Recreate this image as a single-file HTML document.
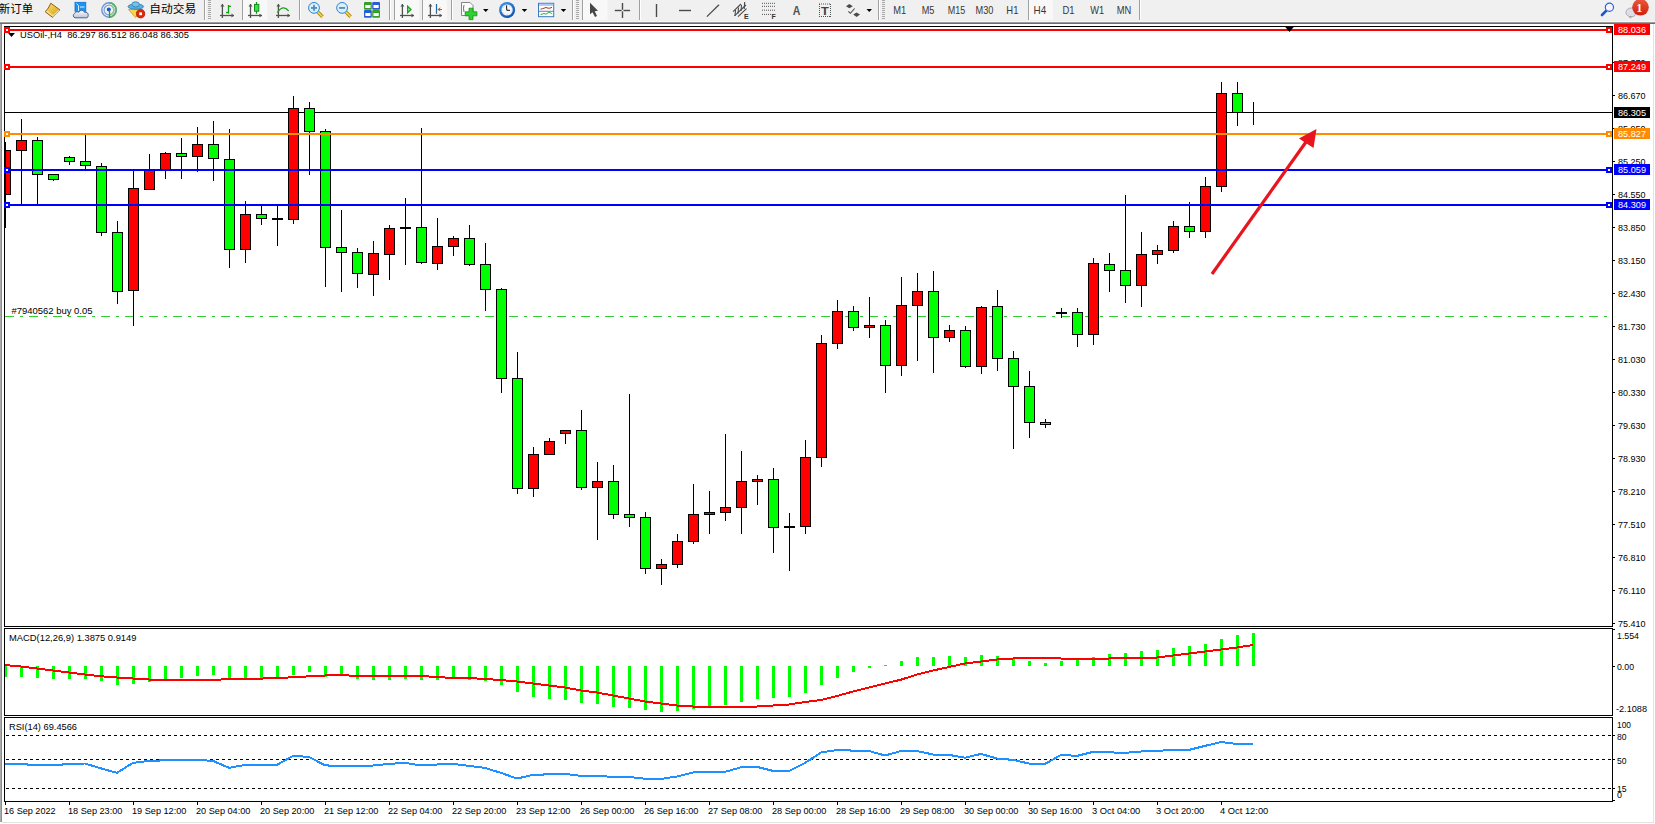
<!DOCTYPE html><html><head><meta charset="utf-8"><style>html,body{margin:0;padding:0;background:#fff;}body{width:1655px;height:824px;overflow:hidden;position:relative;}svg text{white-space:pre;}</style></head><body><svg width="1655" height="824" viewBox="0 0 1655 824" style="position:absolute;left:0;top:0">
<defs><clipPath id="mainclip"><rect x="5" y="27" width="1607" height="599"/></clipPath><clipPath id="macdclip"><rect x="5" y="629" width="1607" height="86"/></clipPath><clipPath id="rsiclip"><rect x="5" y="718" width="1607" height="83"/></clipPath></defs>
<rect x="0" y="0" width="1655" height="22" fill="#f0f0f0"/>
<rect x="0" y="21" width="1655" height="1" fill="#f7f7f7"/>
<rect x="0" y="22" width="1655" height="1" fill="#9b9b9b"/>
<rect x="0" y="23" width="1655" height="1" fill="#6d6d6d"/>
<rect x="0" y="24" width="1655" height="800" fill="#ffffff"/>
<rect x="0" y="24" width="1" height="798" fill="#ababab"/>
<rect x="1" y="24" width="1" height="798" fill="#8d8d8d"/>
<rect x="1653" y="24" width="1" height="799" fill="#e3e3e3"/>
<rect x="2" y="822" width="1652" height="1" fill="#e3e3e3"/>
<rect x="4" y="26" width="1609" height="1" fill="#000"/>
<rect x="4" y="26" width="1" height="601" fill="#000"/>
<rect x="1612" y="26" width="1" height="601" fill="#000"/>
<rect x="4" y="626" width="1609" height="1" fill="#000"/>
<rect x="4" y="628" width="1609" height="1" fill="#000"/>
<rect x="4" y="628" width="1" height="88" fill="#000"/>
<rect x="1612" y="628" width="1" height="88" fill="#000"/>
<rect x="4" y="715" width="1609" height="1" fill="#000"/>
<rect x="4" y="717" width="1609" height="1" fill="#000"/>
<rect x="4" y="717" width="1" height="85" fill="#000"/>
<rect x="1612" y="717" width="1" height="85" fill="#000"/>
<rect x="4" y="801" width="1609" height="1" fill="#000"/>
<g clip-path="url(#mainclip)">
<rect x="5" y="316" width="9" height="1" fill="#32cd32"/>
<rect x="20" y="316" width="3" height="1" fill="#32cd32"/>
<rect x="29" y="316" width="9" height="1" fill="#32cd32"/>
<rect x="44" y="316" width="3" height="1" fill="#32cd32"/>
<rect x="53" y="316" width="9" height="1" fill="#32cd32"/>
<rect x="68" y="316" width="3" height="1" fill="#32cd32"/>
<rect x="77" y="316" width="9" height="1" fill="#32cd32"/>
<rect x="92" y="316" width="3" height="1" fill="#32cd32"/>
<rect x="101" y="316" width="9" height="1" fill="#32cd32"/>
<rect x="116" y="316" width="3" height="1" fill="#32cd32"/>
<rect x="125" y="316" width="9" height="1" fill="#32cd32"/>
<rect x="140" y="316" width="3" height="1" fill="#32cd32"/>
<rect x="149" y="316" width="9" height="1" fill="#32cd32"/>
<rect x="164" y="316" width="3" height="1" fill="#32cd32"/>
<rect x="173" y="316" width="9" height="1" fill="#32cd32"/>
<rect x="188" y="316" width="3" height="1" fill="#32cd32"/>
<rect x="197" y="316" width="9" height="1" fill="#32cd32"/>
<rect x="212" y="316" width="3" height="1" fill="#32cd32"/>
<rect x="221" y="316" width="9" height="1" fill="#32cd32"/>
<rect x="236" y="316" width="3" height="1" fill="#32cd32"/>
<rect x="245" y="316" width="9" height="1" fill="#32cd32"/>
<rect x="260" y="316" width="3" height="1" fill="#32cd32"/>
<rect x="269" y="316" width="9" height="1" fill="#32cd32"/>
<rect x="284" y="316" width="3" height="1" fill="#32cd32"/>
<rect x="293" y="316" width="9" height="1" fill="#32cd32"/>
<rect x="308" y="316" width="3" height="1" fill="#32cd32"/>
<rect x="317" y="316" width="9" height="1" fill="#32cd32"/>
<rect x="332" y="316" width="3" height="1" fill="#32cd32"/>
<rect x="341" y="316" width="9" height="1" fill="#32cd32"/>
<rect x="356" y="316" width="3" height="1" fill="#32cd32"/>
<rect x="365" y="316" width="9" height="1" fill="#32cd32"/>
<rect x="380" y="316" width="3" height="1" fill="#32cd32"/>
<rect x="389" y="316" width="9" height="1" fill="#32cd32"/>
<rect x="404" y="316" width="3" height="1" fill="#32cd32"/>
<rect x="413" y="316" width="9" height="1" fill="#32cd32"/>
<rect x="428" y="316" width="3" height="1" fill="#32cd32"/>
<rect x="437" y="316" width="9" height="1" fill="#32cd32"/>
<rect x="452" y="316" width="3" height="1" fill="#32cd32"/>
<rect x="461" y="316" width="9" height="1" fill="#32cd32"/>
<rect x="476" y="316" width="3" height="1" fill="#32cd32"/>
<rect x="485" y="316" width="9" height="1" fill="#32cd32"/>
<rect x="500" y="316" width="3" height="1" fill="#32cd32"/>
<rect x="509" y="316" width="9" height="1" fill="#32cd32"/>
<rect x="524" y="316" width="3" height="1" fill="#32cd32"/>
<rect x="533" y="316" width="9" height="1" fill="#32cd32"/>
<rect x="548" y="316" width="3" height="1" fill="#32cd32"/>
<rect x="557" y="316" width="9" height="1" fill="#32cd32"/>
<rect x="572" y="316" width="3" height="1" fill="#32cd32"/>
<rect x="581" y="316" width="9" height="1" fill="#32cd32"/>
<rect x="596" y="316" width="3" height="1" fill="#32cd32"/>
<rect x="605" y="316" width="9" height="1" fill="#32cd32"/>
<rect x="620" y="316" width="3" height="1" fill="#32cd32"/>
<rect x="629" y="316" width="9" height="1" fill="#32cd32"/>
<rect x="644" y="316" width="3" height="1" fill="#32cd32"/>
<rect x="653" y="316" width="9" height="1" fill="#32cd32"/>
<rect x="668" y="316" width="3" height="1" fill="#32cd32"/>
<rect x="677" y="316" width="9" height="1" fill="#32cd32"/>
<rect x="692" y="316" width="3" height="1" fill="#32cd32"/>
<rect x="701" y="316" width="9" height="1" fill="#32cd32"/>
<rect x="716" y="316" width="3" height="1" fill="#32cd32"/>
<rect x="725" y="316" width="9" height="1" fill="#32cd32"/>
<rect x="740" y="316" width="3" height="1" fill="#32cd32"/>
<rect x="749" y="316" width="9" height="1" fill="#32cd32"/>
<rect x="764" y="316" width="3" height="1" fill="#32cd32"/>
<rect x="773" y="316" width="9" height="1" fill="#32cd32"/>
<rect x="788" y="316" width="3" height="1" fill="#32cd32"/>
<rect x="797" y="316" width="9" height="1" fill="#32cd32"/>
<rect x="812" y="316" width="3" height="1" fill="#32cd32"/>
<rect x="821" y="316" width="9" height="1" fill="#32cd32"/>
<rect x="836" y="316" width="3" height="1" fill="#32cd32"/>
<rect x="845" y="316" width="9" height="1" fill="#32cd32"/>
<rect x="860" y="316" width="3" height="1" fill="#32cd32"/>
<rect x="869" y="316" width="9" height="1" fill="#32cd32"/>
<rect x="884" y="316" width="3" height="1" fill="#32cd32"/>
<rect x="893" y="316" width="9" height="1" fill="#32cd32"/>
<rect x="908" y="316" width="3" height="1" fill="#32cd32"/>
<rect x="917" y="316" width="9" height="1" fill="#32cd32"/>
<rect x="932" y="316" width="3" height="1" fill="#32cd32"/>
<rect x="941" y="316" width="9" height="1" fill="#32cd32"/>
<rect x="956" y="316" width="3" height="1" fill="#32cd32"/>
<rect x="965" y="316" width="9" height="1" fill="#32cd32"/>
<rect x="980" y="316" width="3" height="1" fill="#32cd32"/>
<rect x="989" y="316" width="9" height="1" fill="#32cd32"/>
<rect x="1004" y="316" width="3" height="1" fill="#32cd32"/>
<rect x="1013" y="316" width="9" height="1" fill="#32cd32"/>
<rect x="1028" y="316" width="3" height="1" fill="#32cd32"/>
<rect x="1037" y="316" width="9" height="1" fill="#32cd32"/>
<rect x="1052" y="316" width="3" height="1" fill="#32cd32"/>
<rect x="1061" y="316" width="9" height="1" fill="#32cd32"/>
<rect x="1076" y="316" width="3" height="1" fill="#32cd32"/>
<rect x="1085" y="316" width="9" height="1" fill="#32cd32"/>
<rect x="1100" y="316" width="3" height="1" fill="#32cd32"/>
<rect x="1109" y="316" width="9" height="1" fill="#32cd32"/>
<rect x="1124" y="316" width="3" height="1" fill="#32cd32"/>
<rect x="1133" y="316" width="9" height="1" fill="#32cd32"/>
<rect x="1148" y="316" width="3" height="1" fill="#32cd32"/>
<rect x="1157" y="316" width="9" height="1" fill="#32cd32"/>
<rect x="1172" y="316" width="3" height="1" fill="#32cd32"/>
<rect x="1181" y="316" width="9" height="1" fill="#32cd32"/>
<rect x="1196" y="316" width="3" height="1" fill="#32cd32"/>
<rect x="1205" y="316" width="9" height="1" fill="#32cd32"/>
<rect x="1220" y="316" width="3" height="1" fill="#32cd32"/>
<rect x="1229" y="316" width="9" height="1" fill="#32cd32"/>
<rect x="1244" y="316" width="3" height="1" fill="#32cd32"/>
<rect x="1253" y="316" width="9" height="1" fill="#32cd32"/>
<rect x="1268" y="316" width="3" height="1" fill="#32cd32"/>
<rect x="1277" y="316" width="9" height="1" fill="#32cd32"/>
<rect x="1292" y="316" width="3" height="1" fill="#32cd32"/>
<rect x="1301" y="316" width="9" height="1" fill="#32cd32"/>
<rect x="1316" y="316" width="3" height="1" fill="#32cd32"/>
<rect x="1325" y="316" width="9" height="1" fill="#32cd32"/>
<rect x="1340" y="316" width="3" height="1" fill="#32cd32"/>
<rect x="1349" y="316" width="9" height="1" fill="#32cd32"/>
<rect x="1364" y="316" width="3" height="1" fill="#32cd32"/>
<rect x="1373" y="316" width="9" height="1" fill="#32cd32"/>
<rect x="1388" y="316" width="3" height="1" fill="#32cd32"/>
<rect x="1397" y="316" width="9" height="1" fill="#32cd32"/>
<rect x="1412" y="316" width="3" height="1" fill="#32cd32"/>
<rect x="1421" y="316" width="9" height="1" fill="#32cd32"/>
<rect x="1436" y="316" width="3" height="1" fill="#32cd32"/>
<rect x="1445" y="316" width="9" height="1" fill="#32cd32"/>
<rect x="1460" y="316" width="3" height="1" fill="#32cd32"/>
<rect x="1469" y="316" width="9" height="1" fill="#32cd32"/>
<rect x="1484" y="316" width="3" height="1" fill="#32cd32"/>
<rect x="1493" y="316" width="9" height="1" fill="#32cd32"/>
<rect x="1508" y="316" width="3" height="1" fill="#32cd32"/>
<rect x="1517" y="316" width="9" height="1" fill="#32cd32"/>
<rect x="1532" y="316" width="3" height="1" fill="#32cd32"/>
<rect x="1541" y="316" width="9" height="1" fill="#32cd32"/>
<rect x="1556" y="316" width="3" height="1" fill="#32cd32"/>
<rect x="1565" y="316" width="9" height="1" fill="#32cd32"/>
<rect x="1580" y="316" width="3" height="1" fill="#32cd32"/>
<rect x="1589" y="316" width="9" height="1" fill="#32cd32"/>
<rect x="1604" y="316" width="3" height="1" fill="#32cd32"/>
<rect x="5" y="112" width="1607" height="1" fill="#000"/>
</g>
<g clip-path="url(#mainclip)">
<rect x="5" y="142" width="1" height="86" fill="#000"/>
<rect x="0" y="150" width="11" height="45" fill="#000"/>
<rect x="1" y="151" width="9" height="43" fill="#ff0000"/>
<rect x="5" y="142" width="1" height="86" fill="#000"/>
<rect x="21" y="119" width="1" height="85" fill="#000"/>
<rect x="16" y="140" width="11" height="11" fill="#000"/>
<rect x="17" y="141" width="9" height="9" fill="#ff0000"/>
<rect x="37" y="137" width="1" height="67" fill="#000"/>
<rect x="32" y="140" width="11" height="35" fill="#000"/>
<rect x="33" y="141" width="9" height="33" fill="#00ff00"/>
<rect x="53" y="174" width="1" height="7" fill="#000"/>
<rect x="48" y="174" width="11" height="6" fill="#000"/>
<rect x="49" y="175" width="9" height="4" fill="#00ff00"/>
<rect x="69" y="156" width="1" height="9" fill="#000"/>
<rect x="64" y="157" width="11" height="5" fill="#000"/>
<rect x="65" y="158" width="9" height="3" fill="#00ff00"/>
<rect x="85" y="135" width="1" height="34" fill="#000"/>
<rect x="80" y="161" width="11" height="5" fill="#000"/>
<rect x="81" y="162" width="9" height="3" fill="#00ff00"/>
<rect x="101" y="163" width="1" height="73" fill="#000"/>
<rect x="96" y="166" width="11" height="67" fill="#000"/>
<rect x="97" y="167" width="9" height="65" fill="#00ff00"/>
<rect x="117" y="221" width="1" height="83" fill="#000"/>
<rect x="112" y="232" width="11" height="60" fill="#000"/>
<rect x="113" y="233" width="9" height="58" fill="#00ff00"/>
<rect x="133" y="170" width="1" height="156" fill="#000"/>
<rect x="128" y="188" width="11" height="103" fill="#000"/>
<rect x="129" y="189" width="9" height="101" fill="#ff0000"/>
<rect x="149" y="154" width="1" height="35" fill="#000"/>
<rect x="144" y="170" width="11" height="20" fill="#000"/>
<rect x="145" y="171" width="9" height="18" fill="#ff0000"/>
<rect x="165" y="152" width="1" height="27" fill="#000"/>
<rect x="160" y="153" width="11" height="17" fill="#000"/>
<rect x="161" y="154" width="9" height="15" fill="#ff0000"/>
<rect x="181" y="138" width="1" height="41" fill="#000"/>
<rect x="176" y="153" width="11" height="4" fill="#000"/>
<rect x="177" y="154" width="9" height="2" fill="#00ff00"/>
<rect x="197" y="127" width="1" height="45" fill="#000"/>
<rect x="192" y="144" width="11" height="13" fill="#000"/>
<rect x="193" y="145" width="9" height="11" fill="#ff0000"/>
<rect x="213" y="121" width="1" height="60" fill="#000"/>
<rect x="208" y="144" width="11" height="15" fill="#000"/>
<rect x="209" y="145" width="9" height="13" fill="#00ff00"/>
<rect x="229" y="129" width="1" height="139" fill="#000"/>
<rect x="224" y="159" width="11" height="91" fill="#000"/>
<rect x="225" y="160" width="9" height="89" fill="#00ff00"/>
<rect x="245" y="201" width="1" height="62" fill="#000"/>
<rect x="240" y="214" width="11" height="36" fill="#000"/>
<rect x="241" y="215" width="9" height="34" fill="#ff0000"/>
<rect x="261" y="206" width="1" height="19" fill="#000"/>
<rect x="256" y="214" width="11" height="5" fill="#000"/>
<rect x="257" y="215" width="9" height="3" fill="#00ff00"/>
<rect x="277" y="206" width="1" height="40" fill="#000"/>
<rect x="272" y="218" width="11" height="2" fill="#000"/>
<rect x="293" y="96" width="1" height="128" fill="#000"/>
<rect x="288" y="108" width="11" height="112" fill="#000"/>
<rect x="289" y="109" width="9" height="110" fill="#ff0000"/>
<rect x="309" y="102" width="1" height="73" fill="#000"/>
<rect x="304" y="108" width="11" height="24" fill="#000"/>
<rect x="305" y="109" width="9" height="22" fill="#00ff00"/>
<rect x="325" y="129" width="1" height="158" fill="#000"/>
<rect x="320" y="131" width="11" height="117" fill="#000"/>
<rect x="321" y="132" width="9" height="115" fill="#00ff00"/>
<rect x="341" y="210" width="1" height="82" fill="#000"/>
<rect x="336" y="247" width="11" height="6" fill="#000"/>
<rect x="337" y="248" width="9" height="4" fill="#00ff00"/>
<rect x="357" y="248" width="1" height="40" fill="#000"/>
<rect x="352" y="252" width="11" height="22" fill="#000"/>
<rect x="353" y="253" width="9" height="20" fill="#00ff00"/>
<rect x="373" y="241" width="1" height="55" fill="#000"/>
<rect x="368" y="253" width="11" height="22" fill="#000"/>
<rect x="369" y="254" width="9" height="20" fill="#ff0000"/>
<rect x="389" y="225" width="1" height="55" fill="#000"/>
<rect x="384" y="228" width="11" height="27" fill="#000"/>
<rect x="385" y="229" width="9" height="25" fill="#ff0000"/>
<rect x="405" y="198" width="1" height="67" fill="#000"/>
<rect x="400" y="227" width="11" height="2" fill="#000"/>
<rect x="421" y="128" width="1" height="136" fill="#000"/>
<rect x="416" y="227" width="11" height="36" fill="#000"/>
<rect x="417" y="228" width="9" height="34" fill="#00ff00"/>
<rect x="437" y="218" width="1" height="52" fill="#000"/>
<rect x="432" y="246" width="11" height="18" fill="#000"/>
<rect x="433" y="247" width="9" height="16" fill="#ff0000"/>
<rect x="453" y="236" width="1" height="20" fill="#000"/>
<rect x="448" y="238" width="11" height="9" fill="#000"/>
<rect x="449" y="239" width="9" height="7" fill="#ff0000"/>
<rect x="469" y="225" width="1" height="41" fill="#000"/>
<rect x="464" y="238" width="11" height="27" fill="#000"/>
<rect x="465" y="239" width="9" height="25" fill="#00ff00"/>
<rect x="485" y="243" width="1" height="68" fill="#000"/>
<rect x="480" y="264" width="11" height="26" fill="#000"/>
<rect x="481" y="265" width="9" height="24" fill="#00ff00"/>
<rect x="501" y="288" width="1" height="105" fill="#000"/>
<rect x="496" y="289" width="11" height="90" fill="#000"/>
<rect x="497" y="290" width="9" height="88" fill="#00ff00"/>
<rect x="517" y="352" width="1" height="142" fill="#000"/>
<rect x="512" y="378" width="11" height="111" fill="#000"/>
<rect x="513" y="379" width="9" height="109" fill="#00ff00"/>
<rect x="533" y="447" width="1" height="50" fill="#000"/>
<rect x="528" y="454" width="11" height="35" fill="#000"/>
<rect x="529" y="455" width="9" height="33" fill="#ff0000"/>
<rect x="549" y="438" width="1" height="16" fill="#000"/>
<rect x="544" y="441" width="11" height="14" fill="#000"/>
<rect x="545" y="442" width="9" height="12" fill="#ff0000"/>
<rect x="565" y="430" width="1" height="14" fill="#000"/>
<rect x="560" y="430" width="11" height="4" fill="#000"/>
<rect x="561" y="431" width="9" height="2" fill="#ff0000"/>
<rect x="581" y="410" width="1" height="80" fill="#000"/>
<rect x="576" y="430" width="11" height="58" fill="#000"/>
<rect x="577" y="431" width="9" height="56" fill="#00ff00"/>
<rect x="597" y="462" width="1" height="78" fill="#000"/>
<rect x="592" y="481" width="11" height="7" fill="#000"/>
<rect x="593" y="482" width="9" height="5" fill="#ff0000"/>
<rect x="613" y="465" width="1" height="54" fill="#000"/>
<rect x="608" y="481" width="11" height="34" fill="#000"/>
<rect x="609" y="482" width="9" height="32" fill="#00ff00"/>
<rect x="629" y="394" width="1" height="133" fill="#000"/>
<rect x="624" y="514" width="11" height="4" fill="#000"/>
<rect x="625" y="515" width="9" height="2" fill="#00ff00"/>
<rect x="645" y="512" width="1" height="62" fill="#000"/>
<rect x="640" y="517" width="11" height="52" fill="#000"/>
<rect x="641" y="518" width="9" height="50" fill="#00ff00"/>
<rect x="661" y="559" width="1" height="26" fill="#000"/>
<rect x="656" y="564" width="11" height="5" fill="#000"/>
<rect x="657" y="565" width="9" height="3" fill="#ff0000"/>
<rect x="677" y="534" width="1" height="34" fill="#000"/>
<rect x="672" y="541" width="11" height="24" fill="#000"/>
<rect x="673" y="542" width="9" height="22" fill="#ff0000"/>
<rect x="693" y="484" width="1" height="60" fill="#000"/>
<rect x="688" y="514" width="11" height="28" fill="#000"/>
<rect x="689" y="515" width="9" height="26" fill="#ff0000"/>
<rect x="709" y="491" width="1" height="43" fill="#000"/>
<rect x="704" y="512" width="11" height="3" fill="#000"/>
<rect x="705" y="513" width="9" height="1" fill="#ff0000"/>
<rect x="725" y="434" width="1" height="87" fill="#000"/>
<rect x="720" y="507" width="11" height="6" fill="#000"/>
<rect x="721" y="508" width="9" height="4" fill="#ff0000"/>
<rect x="741" y="451" width="1" height="83" fill="#000"/>
<rect x="736" y="481" width="11" height="27" fill="#000"/>
<rect x="737" y="482" width="9" height="25" fill="#ff0000"/>
<rect x="757" y="475" width="1" height="30" fill="#000"/>
<rect x="752" y="479" width="11" height="3" fill="#000"/>
<rect x="753" y="480" width="9" height="1" fill="#ff0000"/>
<rect x="773" y="468" width="1" height="85" fill="#000"/>
<rect x="768" y="479" width="11" height="49" fill="#000"/>
<rect x="769" y="480" width="9" height="47" fill="#00ff00"/>
<rect x="789" y="513" width="1" height="58" fill="#000"/>
<rect x="784" y="526" width="11" height="2" fill="#000"/>
<rect x="805" y="440" width="1" height="94" fill="#000"/>
<rect x="800" y="457" width="11" height="70" fill="#000"/>
<rect x="801" y="458" width="9" height="68" fill="#ff0000"/>
<rect x="821" y="335" width="1" height="132" fill="#000"/>
<rect x="816" y="343" width="11" height="115" fill="#000"/>
<rect x="817" y="344" width="9" height="113" fill="#ff0000"/>
<rect x="837" y="300" width="1" height="49" fill="#000"/>
<rect x="832" y="311" width="11" height="33" fill="#000"/>
<rect x="833" y="312" width="9" height="31" fill="#ff0000"/>
<rect x="853" y="306" width="1" height="25" fill="#000"/>
<rect x="848" y="311" width="11" height="17" fill="#000"/>
<rect x="849" y="312" width="9" height="15" fill="#00ff00"/>
<rect x="869" y="297" width="1" height="41" fill="#000"/>
<rect x="864" y="325" width="11" height="3" fill="#000"/>
<rect x="865" y="326" width="9" height="1" fill="#ff0000"/>
<rect x="885" y="320" width="1" height="73" fill="#000"/>
<rect x="880" y="325" width="11" height="41" fill="#000"/>
<rect x="881" y="326" width="9" height="39" fill="#00ff00"/>
<rect x="901" y="277" width="1" height="99" fill="#000"/>
<rect x="896" y="305" width="11" height="61" fill="#000"/>
<rect x="897" y="306" width="9" height="59" fill="#ff0000"/>
<rect x="917" y="273" width="1" height="88" fill="#000"/>
<rect x="912" y="291" width="11" height="15" fill="#000"/>
<rect x="913" y="292" width="9" height="13" fill="#ff0000"/>
<rect x="933" y="271" width="1" height="102" fill="#000"/>
<rect x="928" y="291" width="11" height="47" fill="#000"/>
<rect x="929" y="292" width="9" height="45" fill="#00ff00"/>
<rect x="949" y="325" width="1" height="17" fill="#000"/>
<rect x="944" y="330" width="11" height="8" fill="#000"/>
<rect x="945" y="331" width="9" height="6" fill="#ff0000"/>
<rect x="965" y="326" width="1" height="42" fill="#000"/>
<rect x="960" y="330" width="11" height="37" fill="#000"/>
<rect x="961" y="331" width="9" height="35" fill="#00ff00"/>
<rect x="981" y="306" width="1" height="68" fill="#000"/>
<rect x="976" y="307" width="11" height="60" fill="#000"/>
<rect x="977" y="308" width="9" height="58" fill="#ff0000"/>
<rect x="997" y="290" width="1" height="81" fill="#000"/>
<rect x="992" y="306" width="11" height="53" fill="#000"/>
<rect x="993" y="307" width="9" height="51" fill="#00ff00"/>
<rect x="1013" y="351" width="1" height="98" fill="#000"/>
<rect x="1008" y="358" width="11" height="29" fill="#000"/>
<rect x="1009" y="359" width="9" height="27" fill="#00ff00"/>
<rect x="1029" y="371" width="1" height="67" fill="#000"/>
<rect x="1024" y="386" width="11" height="37" fill="#000"/>
<rect x="1025" y="387" width="9" height="35" fill="#00ff00"/>
<rect x="1045" y="419" width="1" height="9" fill="#000"/>
<rect x="1040" y="422" width="11" height="3" fill="#000"/>
<rect x="1041" y="423" width="9" height="1" fill="#00ff00"/>
<rect x="1061" y="308" width="1" height="10" fill="#000"/>
<rect x="1056" y="312" width="11" height="2" fill="#000"/>
<rect x="1077" y="308" width="1" height="39" fill="#000"/>
<rect x="1072" y="312" width="11" height="23" fill="#000"/>
<rect x="1073" y="313" width="9" height="21" fill="#00ff00"/>
<rect x="1093" y="258" width="1" height="87" fill="#000"/>
<rect x="1088" y="263" width="11" height="72" fill="#000"/>
<rect x="1089" y="264" width="9" height="70" fill="#ff0000"/>
<rect x="1109" y="253" width="1" height="39" fill="#000"/>
<rect x="1104" y="264" width="11" height="7" fill="#000"/>
<rect x="1105" y="265" width="9" height="5" fill="#00ff00"/>
<rect x="1125" y="195" width="1" height="108" fill="#000"/>
<rect x="1120" y="270" width="11" height="16" fill="#000"/>
<rect x="1121" y="271" width="9" height="14" fill="#00ff00"/>
<rect x="1141" y="232" width="1" height="75" fill="#000"/>
<rect x="1136" y="254" width="11" height="32" fill="#000"/>
<rect x="1137" y="255" width="9" height="30" fill="#ff0000"/>
<rect x="1157" y="245" width="1" height="19" fill="#000"/>
<rect x="1152" y="250" width="11" height="5" fill="#000"/>
<rect x="1153" y="251" width="9" height="3" fill="#ff0000"/>
<rect x="1173" y="221" width="1" height="32" fill="#000"/>
<rect x="1168" y="226" width="11" height="25" fill="#000"/>
<rect x="1169" y="227" width="9" height="23" fill="#ff0000"/>
<rect x="1189" y="202" width="1" height="36" fill="#000"/>
<rect x="1184" y="226" width="11" height="6" fill="#000"/>
<rect x="1185" y="227" width="9" height="4" fill="#00ff00"/>
<rect x="1205" y="177" width="1" height="61" fill="#000"/>
<rect x="1200" y="186" width="11" height="46" fill="#000"/>
<rect x="1201" y="187" width="9" height="44" fill="#ff0000"/>
<rect x="1221" y="82" width="1" height="110" fill="#000"/>
<rect x="1216" y="93" width="11" height="94" fill="#000"/>
<rect x="1217" y="94" width="9" height="92" fill="#ff0000"/>
<rect x="1237" y="82" width="1" height="44" fill="#000"/>
<rect x="1232" y="93" width="11" height="20" fill="#000"/>
<rect x="1233" y="94" width="9" height="18" fill="#00ff00"/>
<rect x="1253" y="102" width="1" height="23" fill="#000"/>
<rect x="1248" y="112" width="11" height="1" fill="#000"/>
</g>
<rect x="4" y="29" width="1608" height="2" fill="#ff0000"/>
<rect x="4" y="27" width="6" height="6" fill="#ff0000"/>
<rect x="6" y="29" width="2" height="2" fill="#fff"/>
<rect x="1606" y="27" width="6" height="6" fill="#ff0000"/>
<rect x="1608" y="29" width="2" height="2" fill="#fff"/>
<rect x="4" y="66" width="1608" height="2" fill="#ff0000"/>
<rect x="4" y="64" width="6" height="6" fill="#ff0000"/>
<rect x="6" y="66" width="2" height="2" fill="#fff"/>
<rect x="1606" y="64" width="6" height="6" fill="#ff0000"/>
<rect x="1608" y="66" width="2" height="2" fill="#fff"/>
<rect x="4" y="133" width="1608" height="2" fill="#ff8c00"/>
<rect x="4" y="131" width="6" height="6" fill="#ff8c00"/>
<rect x="6" y="133" width="2" height="2" fill="#fff"/>
<rect x="1606" y="131" width="6" height="6" fill="#ff8c00"/>
<rect x="1608" y="133" width="2" height="2" fill="#fff"/>
<rect x="4" y="169" width="1608" height="2" fill="#0000ff"/>
<rect x="4" y="167" width="6" height="6" fill="#0000ff"/>
<rect x="6" y="169" width="2" height="2" fill="#fff"/>
<rect x="1606" y="167" width="6" height="6" fill="#0000ff"/>
<rect x="1608" y="169" width="2" height="2" fill="#fff"/>
<rect x="4" y="204" width="1608" height="2" fill="#0000ff"/>
<rect x="4" y="202" width="6" height="6" fill="#0000ff"/>
<rect x="6" y="204" width="2" height="2" fill="#fff"/>
<rect x="1606" y="202" width="6" height="6" fill="#0000ff"/>
<rect x="1608" y="204" width="2" height="2" fill="#fff"/>
<polygon points="1284.5,26 1294.5,26 1289.5,32" fill="#000"/>
<line x1="1212" y1="274" x2="1306" y2="142" stroke="#e8141e" stroke-width="3.2" stroke-linecap="butt"/>
<polygon points="1316.5,129 1299,138.5 1313.5,148" fill="#e8141e"/>
<polygon points="8,33 15,33 11.5,37" fill="#000"/>
<text x="20" y="38" font-size="9.6" fill="#000" font-family="'Liberation Sans', 'DejaVu Sans', sans-serif" textLength="169" lengthAdjust="spacingAndGlyphs" >USOil-,H4&#160;&#160;86.297 86.512 86.048 86.305</text>
<text x="11.5" y="313.5" font-size="9.6" fill="#000" font-family="'Liberation Sans', 'DejaVu Sans', sans-serif" textLength="81" lengthAdjust="spacingAndGlyphs" >#7940562 buy 0.05</text>
<rect x="1613" y="62" width="2" height="1" fill="#000"/>
<text x="1618" y="65.6" font-size="9.6" fill="#000" font-family="'Liberation Sans', 'DejaVu Sans', sans-serif" textLength="27.5" lengthAdjust="spacingAndGlyphs" >87.370</text>
<rect x="1613" y="95" width="2" height="1" fill="#000"/>
<text x="1618" y="98.6" font-size="9.6" fill="#000" font-family="'Liberation Sans', 'DejaVu Sans', sans-serif" textLength="27.5" lengthAdjust="spacingAndGlyphs" >86.670</text>
<rect x="1613" y="128" width="2" height="1" fill="#000"/>
<text x="1618" y="131.6" font-size="9.6" fill="#000" font-family="'Liberation Sans', 'DejaVu Sans', sans-serif" textLength="27.5" lengthAdjust="spacingAndGlyphs" >85.950</text>
<rect x="1613" y="161" width="2" height="1" fill="#000"/>
<text x="1618" y="164.6" font-size="9.6" fill="#000" font-family="'Liberation Sans', 'DejaVu Sans', sans-serif" textLength="27.5" lengthAdjust="spacingAndGlyphs" >85.250</text>
<rect x="1613" y="194" width="2" height="1" fill="#000"/>
<text x="1618" y="197.6" font-size="9.6" fill="#000" font-family="'Liberation Sans', 'DejaVu Sans', sans-serif" textLength="27.5" lengthAdjust="spacingAndGlyphs" >84.550</text>
<rect x="1613" y="227" width="2" height="1" fill="#000"/>
<text x="1618" y="230.6" font-size="9.6" fill="#000" font-family="'Liberation Sans', 'DejaVu Sans', sans-serif" textLength="27.5" lengthAdjust="spacingAndGlyphs" >83.850</text>
<rect x="1613" y="260" width="2" height="1" fill="#000"/>
<text x="1618" y="263.6" font-size="9.6" fill="#000" font-family="'Liberation Sans', 'DejaVu Sans', sans-serif" textLength="27.5" lengthAdjust="spacingAndGlyphs" >83.150</text>
<rect x="1613" y="293" width="2" height="1" fill="#000"/>
<text x="1618" y="296.6" font-size="9.6" fill="#000" font-family="'Liberation Sans', 'DejaVu Sans', sans-serif" textLength="27.5" lengthAdjust="spacingAndGlyphs" >82.430</text>
<rect x="1613" y="326" width="2" height="1" fill="#000"/>
<text x="1618" y="329.6" font-size="9.6" fill="#000" font-family="'Liberation Sans', 'DejaVu Sans', sans-serif" textLength="27.5" lengthAdjust="spacingAndGlyphs" >81.730</text>
<rect x="1613" y="359" width="2" height="1" fill="#000"/>
<text x="1618" y="362.6" font-size="9.6" fill="#000" font-family="'Liberation Sans', 'DejaVu Sans', sans-serif" textLength="27.5" lengthAdjust="spacingAndGlyphs" >81.030</text>
<rect x="1613" y="392" width="2" height="1" fill="#000"/>
<text x="1618" y="395.6" font-size="9.6" fill="#000" font-family="'Liberation Sans', 'DejaVu Sans', sans-serif" textLength="27.5" lengthAdjust="spacingAndGlyphs" >80.330</text>
<rect x="1613" y="425" width="2" height="1" fill="#000"/>
<text x="1618" y="428.6" font-size="9.6" fill="#000" font-family="'Liberation Sans', 'DejaVu Sans', sans-serif" textLength="27.5" lengthAdjust="spacingAndGlyphs" >79.630</text>
<rect x="1613" y="458" width="2" height="1" fill="#000"/>
<text x="1618" y="461.6" font-size="9.6" fill="#000" font-family="'Liberation Sans', 'DejaVu Sans', sans-serif" textLength="27.5" lengthAdjust="spacingAndGlyphs" >78.930</text>
<rect x="1613" y="491" width="2" height="1" fill="#000"/>
<text x="1618" y="494.6" font-size="9.6" fill="#000" font-family="'Liberation Sans', 'DejaVu Sans', sans-serif" textLength="27.5" lengthAdjust="spacingAndGlyphs" >78.210</text>
<rect x="1613" y="524" width="2" height="1" fill="#000"/>
<text x="1618" y="527.6" font-size="9.6" fill="#000" font-family="'Liberation Sans', 'DejaVu Sans', sans-serif" textLength="27.5" lengthAdjust="spacingAndGlyphs" >77.510</text>
<rect x="1613" y="557" width="2" height="1" fill="#000"/>
<text x="1618" y="560.6" font-size="9.6" fill="#000" font-family="'Liberation Sans', 'DejaVu Sans', sans-serif" textLength="27.5" lengthAdjust="spacingAndGlyphs" >76.810</text>
<rect x="1613" y="590" width="2" height="1" fill="#000"/>
<text x="1618" y="593.6" font-size="9.6" fill="#000" font-family="'Liberation Sans', 'DejaVu Sans', sans-serif" textLength="27.5" lengthAdjust="spacingAndGlyphs" >76.110</text>
<rect x="1613" y="623" width="2" height="1" fill="#000"/>
<text x="1618" y="626.6" font-size="9.6" fill="#000" font-family="'Liberation Sans', 'DejaVu Sans', sans-serif" textLength="27.5" lengthAdjust="spacingAndGlyphs" >75.410</text>
<rect x="1614" y="24" width="36" height="11" fill="#ff0000"/>
<text x="1618" y="33" font-size="9.6" fill="#fff" font-family="'Liberation Sans', 'DejaVu Sans', sans-serif" textLength="28" lengthAdjust="spacingAndGlyphs" >88.036</text>
<rect x="1614" y="61" width="36" height="11" fill="#ff0000"/>
<text x="1618" y="70" font-size="9.6" fill="#fff" font-family="'Liberation Sans', 'DejaVu Sans', sans-serif" textLength="28" lengthAdjust="spacingAndGlyphs" >87.249</text>
<rect x="1614" y="107" width="36" height="11" fill="#000000"/>
<text x="1618" y="116" font-size="9.6" fill="#fff" font-family="'Liberation Sans', 'DejaVu Sans', sans-serif" textLength="28" lengthAdjust="spacingAndGlyphs" >86.305</text>
<rect x="1614" y="128" width="36" height="11" fill="#ff8c00"/>
<text x="1618" y="137" font-size="9.6" fill="#fff" font-family="'Liberation Sans', 'DejaVu Sans', sans-serif" textLength="28" lengthAdjust="spacingAndGlyphs" >85.827</text>
<rect x="1614" y="164" width="36" height="11" fill="#0000ff"/>
<text x="1618" y="173" font-size="9.6" fill="#fff" font-family="'Liberation Sans', 'DejaVu Sans', sans-serif" textLength="28" lengthAdjust="spacingAndGlyphs" >85.059</text>
<rect x="1614" y="199" width="36" height="11" fill="#0000ff"/>
<text x="1618" y="208" font-size="9.6" fill="#fff" font-family="'Liberation Sans', 'DejaVu Sans', sans-serif" textLength="28" lengthAdjust="spacingAndGlyphs" >84.309</text>
<g clip-path="url(#macdclip)">
<rect x="4" y="666" width="3" height="11" fill="#00ff00"/>
<rect x="20" y="666" width="3" height="11" fill="#00ff00"/>
<rect x="36" y="666" width="3" height="12" fill="#00ff00"/>
<rect x="52" y="666" width="3" height="13" fill="#00ff00"/>
<rect x="68" y="666" width="3" height="13" fill="#00ff00"/>
<rect x="84" y="666" width="3" height="13" fill="#00ff00"/>
<rect x="100" y="666" width="3" height="15" fill="#00ff00"/>
<rect x="116" y="666" width="3" height="19" fill="#00ff00"/>
<rect x="132" y="666" width="3" height="18" fill="#00ff00"/>
<rect x="148" y="666" width="3" height="16" fill="#00ff00"/>
<rect x="164" y="666" width="3" height="13" fill="#00ff00"/>
<rect x="180" y="666" width="3" height="12" fill="#00ff00"/>
<rect x="196" y="666" width="3" height="10" fill="#00ff00"/>
<rect x="212" y="666" width="3" height="9" fill="#00ff00"/>
<rect x="228" y="666" width="3" height="12" fill="#00ff00"/>
<rect x="244" y="666" width="3" height="12" fill="#00ff00"/>
<rect x="260" y="666" width="3" height="12" fill="#00ff00"/>
<rect x="276" y="666" width="3" height="11" fill="#00ff00"/>
<rect x="292" y="666" width="3" height="9" fill="#00ff00"/>
<rect x="308" y="666" width="3" height="6" fill="#00ff00"/>
<rect x="324" y="666" width="3" height="11" fill="#00ff00"/>
<rect x="340" y="666" width="3" height="10" fill="#00ff00"/>
<rect x="356" y="666" width="3" height="13" fill="#00ff00"/>
<rect x="372" y="666" width="3" height="14" fill="#00ff00"/>
<rect x="388" y="666" width="3" height="14" fill="#00ff00"/>
<rect x="404" y="666" width="3" height="13" fill="#00ff00"/>
<rect x="420" y="666" width="3" height="14" fill="#00ff00"/>
<rect x="436" y="666" width="3" height="14" fill="#00ff00"/>
<rect x="452" y="666" width="3" height="11" fill="#00ff00"/>
<rect x="468" y="666" width="3" height="14" fill="#00ff00"/>
<rect x="484" y="666" width="3" height="15" fill="#00ff00"/>
<rect x="500" y="666" width="3" height="19" fill="#00ff00"/>
<rect x="516" y="666" width="3" height="26" fill="#00ff00"/>
<rect x="532" y="666" width="3" height="31" fill="#00ff00"/>
<rect x="548" y="666" width="3" height="33" fill="#00ff00"/>
<rect x="564" y="666" width="3" height="34" fill="#00ff00"/>
<rect x="580" y="666" width="3" height="37" fill="#00ff00"/>
<rect x="596" y="666" width="3" height="38" fill="#00ff00"/>
<rect x="612" y="666" width="3" height="41" fill="#00ff00"/>
<rect x="628" y="666" width="3" height="42" fill="#00ff00"/>
<rect x="644" y="666" width="3" height="44" fill="#00ff00"/>
<rect x="660" y="666" width="3" height="46" fill="#00ff00"/>
<rect x="676" y="666" width="3" height="45" fill="#00ff00"/>
<rect x="692" y="666" width="3" height="43" fill="#00ff00"/>
<rect x="708" y="666" width="3" height="40" fill="#00ff00"/>
<rect x="724" y="666" width="3" height="39" fill="#00ff00"/>
<rect x="740" y="666" width="3" height="36" fill="#00ff00"/>
<rect x="756" y="666" width="3" height="33" fill="#00ff00"/>
<rect x="772" y="666" width="3" height="32" fill="#00ff00"/>
<rect x="788" y="666" width="3" height="31" fill="#00ff00"/>
<rect x="804" y="666" width="3" height="27" fill="#00ff00"/>
<rect x="820" y="666" width="3" height="19" fill="#00ff00"/>
<rect x="836" y="666" width="3" height="12" fill="#00ff00"/>
<rect x="852" y="666" width="3" height="6" fill="#00ff00"/>
<rect x="868" y="666" width="3" height="2" fill="#00ff00"/>
<rect x="884" y="665" width="3" height="1" fill="#00ff00"/>
<rect x="900" y="661" width="3" height="5" fill="#00ff00"/>
<rect x="916" y="657" width="3" height="9" fill="#00ff00"/>
<rect x="932" y="657" width="3" height="9" fill="#00ff00"/>
<rect x="948" y="656" width="3" height="10" fill="#00ff00"/>
<rect x="964" y="657" width="3" height="9" fill="#00ff00"/>
<rect x="980" y="655" width="3" height="11" fill="#00ff00"/>
<rect x="996" y="656" width="3" height="10" fill="#00ff00"/>
<rect x="1012" y="659" width="3" height="7" fill="#00ff00"/>
<rect x="1028" y="661" width="3" height="5" fill="#00ff00"/>
<rect x="1044" y="663" width="3" height="3" fill="#00ff00"/>
<rect x="1060" y="661" width="3" height="5" fill="#00ff00"/>
<rect x="1076" y="660" width="3" height="6" fill="#00ff00"/>
<rect x="1092" y="657" width="3" height="9" fill="#00ff00"/>
<rect x="1108" y="654" width="3" height="12" fill="#00ff00"/>
<rect x="1124" y="653" width="3" height="13" fill="#00ff00"/>
<rect x="1140" y="651" width="3" height="15" fill="#00ff00"/>
<rect x="1156" y="650" width="3" height="16" fill="#00ff00"/>
<rect x="1172" y="648" width="3" height="18" fill="#00ff00"/>
<rect x="1188" y="646" width="3" height="20" fill="#00ff00"/>
<rect x="1204" y="644" width="3" height="22" fill="#00ff00"/>
<rect x="1220" y="639" width="3" height="27" fill="#00ff00"/>
<rect x="1236" y="635" width="3" height="31" fill="#00ff00"/>
<rect x="1252" y="633" width="3" height="33" fill="#00ff00"/>
<polyline points="5,665 21,666.5 37,668.5 53,670.5 69,672.5 85,674.5 101,676.3 117,677.5 133,678.5 149,679.5 165,680 181,680 197,680 213,679.8 229,679.2 245,679 261,678.6 277,678 293,677.3 309,676.3 325,675.5 341,675 357,676 373,676 389,676 405,676 421,676 437,677 453,678 469,678 485,679 501,680 517,681.5 533,683.5 549,685.5 565,687.5 581,690.5 597,692.5 613,695.5 629,698.5 645,701.5 661,703.5 677,705.5 693,706.5 709,707 725,707 741,707 757,706.5 773,705.5 789,704.5 805,702 821,700 837,696 853,691.5 869,687.5 885,683.5 901,679.7 917,674.5 933,670.5 949,667 965,663.5 981,661.5 997,659.5 1013,658.5 1029,658 1045,658 1061,658.5 1077,659 1093,659 1109,658.5 1125,658 1141,658 1157,657.5 1173,655.5 1189,653.5 1205,651.5 1221,649.5 1237,647.5 1253,645" fill="none" stroke="#ff0000" stroke-width="2" shape-rendering="crispEdges"/>
</g>
<text x="9" y="641" font-size="9.6" fill="#000" font-family="'Liberation Sans', 'DejaVu Sans', sans-serif" textLength="127.5" lengthAdjust="spacingAndGlyphs" >MACD(12,26,9) 1.3875 0.9149</text>
<rect x="1613" y="666" width="2" height="1" fill="#000"/>
<rect x="1613" y="629" width="2" height="1" fill="#000"/>
<text x="1617" y="638.6" font-size="9.6" fill="#000" font-family="'Liberation Sans', 'DejaVu Sans', sans-serif" textLength="22" lengthAdjust="spacingAndGlyphs" >1.554</text>
<text x="1617" y="670" font-size="9.6" fill="#000" font-family="'Liberation Sans', 'DejaVu Sans', sans-serif" textLength="17" lengthAdjust="spacingAndGlyphs" >0.00</text>
<text x="1616" y="712" font-size="9.6" fill="#000" font-family="'Liberation Sans', 'DejaVu Sans', sans-serif" textLength="31" lengthAdjust="spacingAndGlyphs" >-2.1088</text>
<rect x="6" y="735" width="3" height="1" fill="#000"/>
<rect x="12" y="735" width="3" height="1" fill="#000"/>
<rect x="18" y="735" width="3" height="1" fill="#000"/>
<rect x="24" y="735" width="3" height="1" fill="#000"/>
<rect x="30" y="735" width="3" height="1" fill="#000"/>
<rect x="36" y="735" width="3" height="1" fill="#000"/>
<rect x="42" y="735" width="3" height="1" fill="#000"/>
<rect x="48" y="735" width="3" height="1" fill="#000"/>
<rect x="54" y="735" width="3" height="1" fill="#000"/>
<rect x="60" y="735" width="3" height="1" fill="#000"/>
<rect x="66" y="735" width="3" height="1" fill="#000"/>
<rect x="72" y="735" width="3" height="1" fill="#000"/>
<rect x="78" y="735" width="3" height="1" fill="#000"/>
<rect x="84" y="735" width="3" height="1" fill="#000"/>
<rect x="90" y="735" width="3" height="1" fill="#000"/>
<rect x="96" y="735" width="3" height="1" fill="#000"/>
<rect x="102" y="735" width="3" height="1" fill="#000"/>
<rect x="108" y="735" width="3" height="1" fill="#000"/>
<rect x="114" y="735" width="3" height="1" fill="#000"/>
<rect x="120" y="735" width="3" height="1" fill="#000"/>
<rect x="126" y="735" width="3" height="1" fill="#000"/>
<rect x="132" y="735" width="3" height="1" fill="#000"/>
<rect x="138" y="735" width="3" height="1" fill="#000"/>
<rect x="144" y="735" width="3" height="1" fill="#000"/>
<rect x="150" y="735" width="3" height="1" fill="#000"/>
<rect x="156" y="735" width="3" height="1" fill="#000"/>
<rect x="162" y="735" width="3" height="1" fill="#000"/>
<rect x="168" y="735" width="3" height="1" fill="#000"/>
<rect x="174" y="735" width="3" height="1" fill="#000"/>
<rect x="180" y="735" width="3" height="1" fill="#000"/>
<rect x="186" y="735" width="3" height="1" fill="#000"/>
<rect x="192" y="735" width="3" height="1" fill="#000"/>
<rect x="198" y="735" width="3" height="1" fill="#000"/>
<rect x="204" y="735" width="3" height="1" fill="#000"/>
<rect x="210" y="735" width="3" height="1" fill="#000"/>
<rect x="216" y="735" width="3" height="1" fill="#000"/>
<rect x="222" y="735" width="3" height="1" fill="#000"/>
<rect x="228" y="735" width="3" height="1" fill="#000"/>
<rect x="234" y="735" width="3" height="1" fill="#000"/>
<rect x="240" y="735" width="3" height="1" fill="#000"/>
<rect x="246" y="735" width="3" height="1" fill="#000"/>
<rect x="252" y="735" width="3" height="1" fill="#000"/>
<rect x="258" y="735" width="3" height="1" fill="#000"/>
<rect x="264" y="735" width="3" height="1" fill="#000"/>
<rect x="270" y="735" width="3" height="1" fill="#000"/>
<rect x="276" y="735" width="3" height="1" fill="#000"/>
<rect x="282" y="735" width="3" height="1" fill="#000"/>
<rect x="288" y="735" width="3" height="1" fill="#000"/>
<rect x="294" y="735" width="3" height="1" fill="#000"/>
<rect x="300" y="735" width="3" height="1" fill="#000"/>
<rect x="306" y="735" width="3" height="1" fill="#000"/>
<rect x="312" y="735" width="3" height="1" fill="#000"/>
<rect x="318" y="735" width="3" height="1" fill="#000"/>
<rect x="324" y="735" width="3" height="1" fill="#000"/>
<rect x="330" y="735" width="3" height="1" fill="#000"/>
<rect x="336" y="735" width="3" height="1" fill="#000"/>
<rect x="342" y="735" width="3" height="1" fill="#000"/>
<rect x="348" y="735" width="3" height="1" fill="#000"/>
<rect x="354" y="735" width="3" height="1" fill="#000"/>
<rect x="360" y="735" width="3" height="1" fill="#000"/>
<rect x="366" y="735" width="3" height="1" fill="#000"/>
<rect x="372" y="735" width="3" height="1" fill="#000"/>
<rect x="378" y="735" width="3" height="1" fill="#000"/>
<rect x="384" y="735" width="3" height="1" fill="#000"/>
<rect x="390" y="735" width="3" height="1" fill="#000"/>
<rect x="396" y="735" width="3" height="1" fill="#000"/>
<rect x="402" y="735" width="3" height="1" fill="#000"/>
<rect x="408" y="735" width="3" height="1" fill="#000"/>
<rect x="414" y="735" width="3" height="1" fill="#000"/>
<rect x="420" y="735" width="3" height="1" fill="#000"/>
<rect x="426" y="735" width="3" height="1" fill="#000"/>
<rect x="432" y="735" width="3" height="1" fill="#000"/>
<rect x="438" y="735" width="3" height="1" fill="#000"/>
<rect x="444" y="735" width="3" height="1" fill="#000"/>
<rect x="450" y="735" width="3" height="1" fill="#000"/>
<rect x="456" y="735" width="3" height="1" fill="#000"/>
<rect x="462" y="735" width="3" height="1" fill="#000"/>
<rect x="468" y="735" width="3" height="1" fill="#000"/>
<rect x="474" y="735" width="3" height="1" fill="#000"/>
<rect x="480" y="735" width="3" height="1" fill="#000"/>
<rect x="486" y="735" width="3" height="1" fill="#000"/>
<rect x="492" y="735" width="3" height="1" fill="#000"/>
<rect x="498" y="735" width="3" height="1" fill="#000"/>
<rect x="504" y="735" width="3" height="1" fill="#000"/>
<rect x="510" y="735" width="3" height="1" fill="#000"/>
<rect x="516" y="735" width="3" height="1" fill="#000"/>
<rect x="522" y="735" width="3" height="1" fill="#000"/>
<rect x="528" y="735" width="3" height="1" fill="#000"/>
<rect x="534" y="735" width="3" height="1" fill="#000"/>
<rect x="540" y="735" width="3" height="1" fill="#000"/>
<rect x="546" y="735" width="3" height="1" fill="#000"/>
<rect x="552" y="735" width="3" height="1" fill="#000"/>
<rect x="558" y="735" width="3" height="1" fill="#000"/>
<rect x="564" y="735" width="3" height="1" fill="#000"/>
<rect x="570" y="735" width="3" height="1" fill="#000"/>
<rect x="576" y="735" width="3" height="1" fill="#000"/>
<rect x="582" y="735" width="3" height="1" fill="#000"/>
<rect x="588" y="735" width="3" height="1" fill="#000"/>
<rect x="594" y="735" width="3" height="1" fill="#000"/>
<rect x="600" y="735" width="3" height="1" fill="#000"/>
<rect x="606" y="735" width="3" height="1" fill="#000"/>
<rect x="612" y="735" width="3" height="1" fill="#000"/>
<rect x="618" y="735" width="3" height="1" fill="#000"/>
<rect x="624" y="735" width="3" height="1" fill="#000"/>
<rect x="630" y="735" width="3" height="1" fill="#000"/>
<rect x="636" y="735" width="3" height="1" fill="#000"/>
<rect x="642" y="735" width="3" height="1" fill="#000"/>
<rect x="648" y="735" width="3" height="1" fill="#000"/>
<rect x="654" y="735" width="3" height="1" fill="#000"/>
<rect x="660" y="735" width="3" height="1" fill="#000"/>
<rect x="666" y="735" width="3" height="1" fill="#000"/>
<rect x="672" y="735" width="3" height="1" fill="#000"/>
<rect x="678" y="735" width="3" height="1" fill="#000"/>
<rect x="684" y="735" width="3" height="1" fill="#000"/>
<rect x="690" y="735" width="3" height="1" fill="#000"/>
<rect x="696" y="735" width="3" height="1" fill="#000"/>
<rect x="702" y="735" width="3" height="1" fill="#000"/>
<rect x="708" y="735" width="3" height="1" fill="#000"/>
<rect x="714" y="735" width="3" height="1" fill="#000"/>
<rect x="720" y="735" width="3" height="1" fill="#000"/>
<rect x="726" y="735" width="3" height="1" fill="#000"/>
<rect x="732" y="735" width="3" height="1" fill="#000"/>
<rect x="738" y="735" width="3" height="1" fill="#000"/>
<rect x="744" y="735" width="3" height="1" fill="#000"/>
<rect x="750" y="735" width="3" height="1" fill="#000"/>
<rect x="756" y="735" width="3" height="1" fill="#000"/>
<rect x="762" y="735" width="3" height="1" fill="#000"/>
<rect x="768" y="735" width="3" height="1" fill="#000"/>
<rect x="774" y="735" width="3" height="1" fill="#000"/>
<rect x="780" y="735" width="3" height="1" fill="#000"/>
<rect x="786" y="735" width="3" height="1" fill="#000"/>
<rect x="792" y="735" width="3" height="1" fill="#000"/>
<rect x="798" y="735" width="3" height="1" fill="#000"/>
<rect x="804" y="735" width="3" height="1" fill="#000"/>
<rect x="810" y="735" width="3" height="1" fill="#000"/>
<rect x="816" y="735" width="3" height="1" fill="#000"/>
<rect x="822" y="735" width="3" height="1" fill="#000"/>
<rect x="828" y="735" width="3" height="1" fill="#000"/>
<rect x="834" y="735" width="3" height="1" fill="#000"/>
<rect x="840" y="735" width="3" height="1" fill="#000"/>
<rect x="846" y="735" width="3" height="1" fill="#000"/>
<rect x="852" y="735" width="3" height="1" fill="#000"/>
<rect x="858" y="735" width="3" height="1" fill="#000"/>
<rect x="864" y="735" width="3" height="1" fill="#000"/>
<rect x="870" y="735" width="3" height="1" fill="#000"/>
<rect x="876" y="735" width="3" height="1" fill="#000"/>
<rect x="882" y="735" width="3" height="1" fill="#000"/>
<rect x="888" y="735" width="3" height="1" fill="#000"/>
<rect x="894" y="735" width="3" height="1" fill="#000"/>
<rect x="900" y="735" width="3" height="1" fill="#000"/>
<rect x="906" y="735" width="3" height="1" fill="#000"/>
<rect x="912" y="735" width="3" height="1" fill="#000"/>
<rect x="918" y="735" width="3" height="1" fill="#000"/>
<rect x="924" y="735" width="3" height="1" fill="#000"/>
<rect x="930" y="735" width="3" height="1" fill="#000"/>
<rect x="936" y="735" width="3" height="1" fill="#000"/>
<rect x="942" y="735" width="3" height="1" fill="#000"/>
<rect x="948" y="735" width="3" height="1" fill="#000"/>
<rect x="954" y="735" width="3" height="1" fill="#000"/>
<rect x="960" y="735" width="3" height="1" fill="#000"/>
<rect x="966" y="735" width="3" height="1" fill="#000"/>
<rect x="972" y="735" width="3" height="1" fill="#000"/>
<rect x="978" y="735" width="3" height="1" fill="#000"/>
<rect x="984" y="735" width="3" height="1" fill="#000"/>
<rect x="990" y="735" width="3" height="1" fill="#000"/>
<rect x="996" y="735" width="3" height="1" fill="#000"/>
<rect x="1002" y="735" width="3" height="1" fill="#000"/>
<rect x="1008" y="735" width="3" height="1" fill="#000"/>
<rect x="1014" y="735" width="3" height="1" fill="#000"/>
<rect x="1020" y="735" width="3" height="1" fill="#000"/>
<rect x="1026" y="735" width="3" height="1" fill="#000"/>
<rect x="1032" y="735" width="3" height="1" fill="#000"/>
<rect x="1038" y="735" width="3" height="1" fill="#000"/>
<rect x="1044" y="735" width="3" height="1" fill="#000"/>
<rect x="1050" y="735" width="3" height="1" fill="#000"/>
<rect x="1056" y="735" width="3" height="1" fill="#000"/>
<rect x="1062" y="735" width="3" height="1" fill="#000"/>
<rect x="1068" y="735" width="3" height="1" fill="#000"/>
<rect x="1074" y="735" width="3" height="1" fill="#000"/>
<rect x="1080" y="735" width="3" height="1" fill="#000"/>
<rect x="1086" y="735" width="3" height="1" fill="#000"/>
<rect x="1092" y="735" width="3" height="1" fill="#000"/>
<rect x="1098" y="735" width="3" height="1" fill="#000"/>
<rect x="1104" y="735" width="3" height="1" fill="#000"/>
<rect x="1110" y="735" width="3" height="1" fill="#000"/>
<rect x="1116" y="735" width="3" height="1" fill="#000"/>
<rect x="1122" y="735" width="3" height="1" fill="#000"/>
<rect x="1128" y="735" width="3" height="1" fill="#000"/>
<rect x="1134" y="735" width="3" height="1" fill="#000"/>
<rect x="1140" y="735" width="3" height="1" fill="#000"/>
<rect x="1146" y="735" width="3" height="1" fill="#000"/>
<rect x="1152" y="735" width="3" height="1" fill="#000"/>
<rect x="1158" y="735" width="3" height="1" fill="#000"/>
<rect x="1164" y="735" width="3" height="1" fill="#000"/>
<rect x="1170" y="735" width="3" height="1" fill="#000"/>
<rect x="1176" y="735" width="3" height="1" fill="#000"/>
<rect x="1182" y="735" width="3" height="1" fill="#000"/>
<rect x="1188" y="735" width="3" height="1" fill="#000"/>
<rect x="1194" y="735" width="3" height="1" fill="#000"/>
<rect x="1200" y="735" width="3" height="1" fill="#000"/>
<rect x="1206" y="735" width="3" height="1" fill="#000"/>
<rect x="1212" y="735" width="3" height="1" fill="#000"/>
<rect x="1218" y="735" width="3" height="1" fill="#000"/>
<rect x="1224" y="735" width="3" height="1" fill="#000"/>
<rect x="1230" y="735" width="3" height="1" fill="#000"/>
<rect x="1236" y="735" width="3" height="1" fill="#000"/>
<rect x="1242" y="735" width="3" height="1" fill="#000"/>
<rect x="1248" y="735" width="3" height="1" fill="#000"/>
<rect x="1254" y="735" width="3" height="1" fill="#000"/>
<rect x="1260" y="735" width="3" height="1" fill="#000"/>
<rect x="1266" y="735" width="3" height="1" fill="#000"/>
<rect x="1272" y="735" width="3" height="1" fill="#000"/>
<rect x="1278" y="735" width="3" height="1" fill="#000"/>
<rect x="1284" y="735" width="3" height="1" fill="#000"/>
<rect x="1290" y="735" width="3" height="1" fill="#000"/>
<rect x="1296" y="735" width="3" height="1" fill="#000"/>
<rect x="1302" y="735" width="3" height="1" fill="#000"/>
<rect x="1308" y="735" width="3" height="1" fill="#000"/>
<rect x="1314" y="735" width="3" height="1" fill="#000"/>
<rect x="1320" y="735" width="3" height="1" fill="#000"/>
<rect x="1326" y="735" width="3" height="1" fill="#000"/>
<rect x="1332" y="735" width="3" height="1" fill="#000"/>
<rect x="1338" y="735" width="3" height="1" fill="#000"/>
<rect x="1344" y="735" width="3" height="1" fill="#000"/>
<rect x="1350" y="735" width="3" height="1" fill="#000"/>
<rect x="1356" y="735" width="3" height="1" fill="#000"/>
<rect x="1362" y="735" width="3" height="1" fill="#000"/>
<rect x="1368" y="735" width="3" height="1" fill="#000"/>
<rect x="1374" y="735" width="3" height="1" fill="#000"/>
<rect x="1380" y="735" width="3" height="1" fill="#000"/>
<rect x="1386" y="735" width="3" height="1" fill="#000"/>
<rect x="1392" y="735" width="3" height="1" fill="#000"/>
<rect x="1398" y="735" width="3" height="1" fill="#000"/>
<rect x="1404" y="735" width="3" height="1" fill="#000"/>
<rect x="1410" y="735" width="3" height="1" fill="#000"/>
<rect x="1416" y="735" width="3" height="1" fill="#000"/>
<rect x="1422" y="735" width="3" height="1" fill="#000"/>
<rect x="1428" y="735" width="3" height="1" fill="#000"/>
<rect x="1434" y="735" width="3" height="1" fill="#000"/>
<rect x="1440" y="735" width="3" height="1" fill="#000"/>
<rect x="1446" y="735" width="3" height="1" fill="#000"/>
<rect x="1452" y="735" width="3" height="1" fill="#000"/>
<rect x="1458" y="735" width="3" height="1" fill="#000"/>
<rect x="1464" y="735" width="3" height="1" fill="#000"/>
<rect x="1470" y="735" width="3" height="1" fill="#000"/>
<rect x="1476" y="735" width="3" height="1" fill="#000"/>
<rect x="1482" y="735" width="3" height="1" fill="#000"/>
<rect x="1488" y="735" width="3" height="1" fill="#000"/>
<rect x="1494" y="735" width="3" height="1" fill="#000"/>
<rect x="1500" y="735" width="3" height="1" fill="#000"/>
<rect x="1506" y="735" width="3" height="1" fill="#000"/>
<rect x="1512" y="735" width="3" height="1" fill="#000"/>
<rect x="1518" y="735" width="3" height="1" fill="#000"/>
<rect x="1524" y="735" width="3" height="1" fill="#000"/>
<rect x="1530" y="735" width="3" height="1" fill="#000"/>
<rect x="1536" y="735" width="3" height="1" fill="#000"/>
<rect x="1542" y="735" width="3" height="1" fill="#000"/>
<rect x="1548" y="735" width="3" height="1" fill="#000"/>
<rect x="1554" y="735" width="3" height="1" fill="#000"/>
<rect x="1560" y="735" width="3" height="1" fill="#000"/>
<rect x="1566" y="735" width="3" height="1" fill="#000"/>
<rect x="1572" y="735" width="3" height="1" fill="#000"/>
<rect x="1578" y="735" width="3" height="1" fill="#000"/>
<rect x="1584" y="735" width="3" height="1" fill="#000"/>
<rect x="1590" y="735" width="3" height="1" fill="#000"/>
<rect x="1596" y="735" width="3" height="1" fill="#000"/>
<rect x="1602" y="735" width="3" height="1" fill="#000"/>
<rect x="1608" y="735" width="3" height="1" fill="#000"/>
<rect x="6" y="759" width="3" height="1" fill="#000"/>
<rect x="12" y="759" width="3" height="1" fill="#000"/>
<rect x="18" y="759" width="3" height="1" fill="#000"/>
<rect x="24" y="759" width="3" height="1" fill="#000"/>
<rect x="30" y="759" width="3" height="1" fill="#000"/>
<rect x="36" y="759" width="3" height="1" fill="#000"/>
<rect x="42" y="759" width="3" height="1" fill="#000"/>
<rect x="48" y="759" width="3" height="1" fill="#000"/>
<rect x="54" y="759" width="3" height="1" fill="#000"/>
<rect x="60" y="759" width="3" height="1" fill="#000"/>
<rect x="66" y="759" width="3" height="1" fill="#000"/>
<rect x="72" y="759" width="3" height="1" fill="#000"/>
<rect x="78" y="759" width="3" height="1" fill="#000"/>
<rect x="84" y="759" width="3" height="1" fill="#000"/>
<rect x="90" y="759" width="3" height="1" fill="#000"/>
<rect x="96" y="759" width="3" height="1" fill="#000"/>
<rect x="102" y="759" width="3" height="1" fill="#000"/>
<rect x="108" y="759" width="3" height="1" fill="#000"/>
<rect x="114" y="759" width="3" height="1" fill="#000"/>
<rect x="120" y="759" width="3" height="1" fill="#000"/>
<rect x="126" y="759" width="3" height="1" fill="#000"/>
<rect x="132" y="759" width="3" height="1" fill="#000"/>
<rect x="138" y="759" width="3" height="1" fill="#000"/>
<rect x="144" y="759" width="3" height="1" fill="#000"/>
<rect x="150" y="759" width="3" height="1" fill="#000"/>
<rect x="156" y="759" width="3" height="1" fill="#000"/>
<rect x="162" y="759" width="3" height="1" fill="#000"/>
<rect x="168" y="759" width="3" height="1" fill="#000"/>
<rect x="174" y="759" width="3" height="1" fill="#000"/>
<rect x="180" y="759" width="3" height="1" fill="#000"/>
<rect x="186" y="759" width="3" height="1" fill="#000"/>
<rect x="192" y="759" width="3" height="1" fill="#000"/>
<rect x="198" y="759" width="3" height="1" fill="#000"/>
<rect x="204" y="759" width="3" height="1" fill="#000"/>
<rect x="210" y="759" width="3" height="1" fill="#000"/>
<rect x="216" y="759" width="3" height="1" fill="#000"/>
<rect x="222" y="759" width="3" height="1" fill="#000"/>
<rect x="228" y="759" width="3" height="1" fill="#000"/>
<rect x="234" y="759" width="3" height="1" fill="#000"/>
<rect x="240" y="759" width="3" height="1" fill="#000"/>
<rect x="246" y="759" width="3" height="1" fill="#000"/>
<rect x="252" y="759" width="3" height="1" fill="#000"/>
<rect x="258" y="759" width="3" height="1" fill="#000"/>
<rect x="264" y="759" width="3" height="1" fill="#000"/>
<rect x="270" y="759" width="3" height="1" fill="#000"/>
<rect x="276" y="759" width="3" height="1" fill="#000"/>
<rect x="282" y="759" width="3" height="1" fill="#000"/>
<rect x="288" y="759" width="3" height="1" fill="#000"/>
<rect x="294" y="759" width="3" height="1" fill="#000"/>
<rect x="300" y="759" width="3" height="1" fill="#000"/>
<rect x="306" y="759" width="3" height="1" fill="#000"/>
<rect x="312" y="759" width="3" height="1" fill="#000"/>
<rect x="318" y="759" width="3" height="1" fill="#000"/>
<rect x="324" y="759" width="3" height="1" fill="#000"/>
<rect x="330" y="759" width="3" height="1" fill="#000"/>
<rect x="336" y="759" width="3" height="1" fill="#000"/>
<rect x="342" y="759" width="3" height="1" fill="#000"/>
<rect x="348" y="759" width="3" height="1" fill="#000"/>
<rect x="354" y="759" width="3" height="1" fill="#000"/>
<rect x="360" y="759" width="3" height="1" fill="#000"/>
<rect x="366" y="759" width="3" height="1" fill="#000"/>
<rect x="372" y="759" width="3" height="1" fill="#000"/>
<rect x="378" y="759" width="3" height="1" fill="#000"/>
<rect x="384" y="759" width="3" height="1" fill="#000"/>
<rect x="390" y="759" width="3" height="1" fill="#000"/>
<rect x="396" y="759" width="3" height="1" fill="#000"/>
<rect x="402" y="759" width="3" height="1" fill="#000"/>
<rect x="408" y="759" width="3" height="1" fill="#000"/>
<rect x="414" y="759" width="3" height="1" fill="#000"/>
<rect x="420" y="759" width="3" height="1" fill="#000"/>
<rect x="426" y="759" width="3" height="1" fill="#000"/>
<rect x="432" y="759" width="3" height="1" fill="#000"/>
<rect x="438" y="759" width="3" height="1" fill="#000"/>
<rect x="444" y="759" width="3" height="1" fill="#000"/>
<rect x="450" y="759" width="3" height="1" fill="#000"/>
<rect x="456" y="759" width="3" height="1" fill="#000"/>
<rect x="462" y="759" width="3" height="1" fill="#000"/>
<rect x="468" y="759" width="3" height="1" fill="#000"/>
<rect x="474" y="759" width="3" height="1" fill="#000"/>
<rect x="480" y="759" width="3" height="1" fill="#000"/>
<rect x="486" y="759" width="3" height="1" fill="#000"/>
<rect x="492" y="759" width="3" height="1" fill="#000"/>
<rect x="498" y="759" width="3" height="1" fill="#000"/>
<rect x="504" y="759" width="3" height="1" fill="#000"/>
<rect x="510" y="759" width="3" height="1" fill="#000"/>
<rect x="516" y="759" width="3" height="1" fill="#000"/>
<rect x="522" y="759" width="3" height="1" fill="#000"/>
<rect x="528" y="759" width="3" height="1" fill="#000"/>
<rect x="534" y="759" width="3" height="1" fill="#000"/>
<rect x="540" y="759" width="3" height="1" fill="#000"/>
<rect x="546" y="759" width="3" height="1" fill="#000"/>
<rect x="552" y="759" width="3" height="1" fill="#000"/>
<rect x="558" y="759" width="3" height="1" fill="#000"/>
<rect x="564" y="759" width="3" height="1" fill="#000"/>
<rect x="570" y="759" width="3" height="1" fill="#000"/>
<rect x="576" y="759" width="3" height="1" fill="#000"/>
<rect x="582" y="759" width="3" height="1" fill="#000"/>
<rect x="588" y="759" width="3" height="1" fill="#000"/>
<rect x="594" y="759" width="3" height="1" fill="#000"/>
<rect x="600" y="759" width="3" height="1" fill="#000"/>
<rect x="606" y="759" width="3" height="1" fill="#000"/>
<rect x="612" y="759" width="3" height="1" fill="#000"/>
<rect x="618" y="759" width="3" height="1" fill="#000"/>
<rect x="624" y="759" width="3" height="1" fill="#000"/>
<rect x="630" y="759" width="3" height="1" fill="#000"/>
<rect x="636" y="759" width="3" height="1" fill="#000"/>
<rect x="642" y="759" width="3" height="1" fill="#000"/>
<rect x="648" y="759" width="3" height="1" fill="#000"/>
<rect x="654" y="759" width="3" height="1" fill="#000"/>
<rect x="660" y="759" width="3" height="1" fill="#000"/>
<rect x="666" y="759" width="3" height="1" fill="#000"/>
<rect x="672" y="759" width="3" height="1" fill="#000"/>
<rect x="678" y="759" width="3" height="1" fill="#000"/>
<rect x="684" y="759" width="3" height="1" fill="#000"/>
<rect x="690" y="759" width="3" height="1" fill="#000"/>
<rect x="696" y="759" width="3" height="1" fill="#000"/>
<rect x="702" y="759" width="3" height="1" fill="#000"/>
<rect x="708" y="759" width="3" height="1" fill="#000"/>
<rect x="714" y="759" width="3" height="1" fill="#000"/>
<rect x="720" y="759" width="3" height="1" fill="#000"/>
<rect x="726" y="759" width="3" height="1" fill="#000"/>
<rect x="732" y="759" width="3" height="1" fill="#000"/>
<rect x="738" y="759" width="3" height="1" fill="#000"/>
<rect x="744" y="759" width="3" height="1" fill="#000"/>
<rect x="750" y="759" width="3" height="1" fill="#000"/>
<rect x="756" y="759" width="3" height="1" fill="#000"/>
<rect x="762" y="759" width="3" height="1" fill="#000"/>
<rect x="768" y="759" width="3" height="1" fill="#000"/>
<rect x="774" y="759" width="3" height="1" fill="#000"/>
<rect x="780" y="759" width="3" height="1" fill="#000"/>
<rect x="786" y="759" width="3" height="1" fill="#000"/>
<rect x="792" y="759" width="3" height="1" fill="#000"/>
<rect x="798" y="759" width="3" height="1" fill="#000"/>
<rect x="804" y="759" width="3" height="1" fill="#000"/>
<rect x="810" y="759" width="3" height="1" fill="#000"/>
<rect x="816" y="759" width="3" height="1" fill="#000"/>
<rect x="822" y="759" width="3" height="1" fill="#000"/>
<rect x="828" y="759" width="3" height="1" fill="#000"/>
<rect x="834" y="759" width="3" height="1" fill="#000"/>
<rect x="840" y="759" width="3" height="1" fill="#000"/>
<rect x="846" y="759" width="3" height="1" fill="#000"/>
<rect x="852" y="759" width="3" height="1" fill="#000"/>
<rect x="858" y="759" width="3" height="1" fill="#000"/>
<rect x="864" y="759" width="3" height="1" fill="#000"/>
<rect x="870" y="759" width="3" height="1" fill="#000"/>
<rect x="876" y="759" width="3" height="1" fill="#000"/>
<rect x="882" y="759" width="3" height="1" fill="#000"/>
<rect x="888" y="759" width="3" height="1" fill="#000"/>
<rect x="894" y="759" width="3" height="1" fill="#000"/>
<rect x="900" y="759" width="3" height="1" fill="#000"/>
<rect x="906" y="759" width="3" height="1" fill="#000"/>
<rect x="912" y="759" width="3" height="1" fill="#000"/>
<rect x="918" y="759" width="3" height="1" fill="#000"/>
<rect x="924" y="759" width="3" height="1" fill="#000"/>
<rect x="930" y="759" width="3" height="1" fill="#000"/>
<rect x="936" y="759" width="3" height="1" fill="#000"/>
<rect x="942" y="759" width="3" height="1" fill="#000"/>
<rect x="948" y="759" width="3" height="1" fill="#000"/>
<rect x="954" y="759" width="3" height="1" fill="#000"/>
<rect x="960" y="759" width="3" height="1" fill="#000"/>
<rect x="966" y="759" width="3" height="1" fill="#000"/>
<rect x="972" y="759" width="3" height="1" fill="#000"/>
<rect x="978" y="759" width="3" height="1" fill="#000"/>
<rect x="984" y="759" width="3" height="1" fill="#000"/>
<rect x="990" y="759" width="3" height="1" fill="#000"/>
<rect x="996" y="759" width="3" height="1" fill="#000"/>
<rect x="1002" y="759" width="3" height="1" fill="#000"/>
<rect x="1008" y="759" width="3" height="1" fill="#000"/>
<rect x="1014" y="759" width="3" height="1" fill="#000"/>
<rect x="1020" y="759" width="3" height="1" fill="#000"/>
<rect x="1026" y="759" width="3" height="1" fill="#000"/>
<rect x="1032" y="759" width="3" height="1" fill="#000"/>
<rect x="1038" y="759" width="3" height="1" fill="#000"/>
<rect x="1044" y="759" width="3" height="1" fill="#000"/>
<rect x="1050" y="759" width="3" height="1" fill="#000"/>
<rect x="1056" y="759" width="3" height="1" fill="#000"/>
<rect x="1062" y="759" width="3" height="1" fill="#000"/>
<rect x="1068" y="759" width="3" height="1" fill="#000"/>
<rect x="1074" y="759" width="3" height="1" fill="#000"/>
<rect x="1080" y="759" width="3" height="1" fill="#000"/>
<rect x="1086" y="759" width="3" height="1" fill="#000"/>
<rect x="1092" y="759" width="3" height="1" fill="#000"/>
<rect x="1098" y="759" width="3" height="1" fill="#000"/>
<rect x="1104" y="759" width="3" height="1" fill="#000"/>
<rect x="1110" y="759" width="3" height="1" fill="#000"/>
<rect x="1116" y="759" width="3" height="1" fill="#000"/>
<rect x="1122" y="759" width="3" height="1" fill="#000"/>
<rect x="1128" y="759" width="3" height="1" fill="#000"/>
<rect x="1134" y="759" width="3" height="1" fill="#000"/>
<rect x="1140" y="759" width="3" height="1" fill="#000"/>
<rect x="1146" y="759" width="3" height="1" fill="#000"/>
<rect x="1152" y="759" width="3" height="1" fill="#000"/>
<rect x="1158" y="759" width="3" height="1" fill="#000"/>
<rect x="1164" y="759" width="3" height="1" fill="#000"/>
<rect x="1170" y="759" width="3" height="1" fill="#000"/>
<rect x="1176" y="759" width="3" height="1" fill="#000"/>
<rect x="1182" y="759" width="3" height="1" fill="#000"/>
<rect x="1188" y="759" width="3" height="1" fill="#000"/>
<rect x="1194" y="759" width="3" height="1" fill="#000"/>
<rect x="1200" y="759" width="3" height="1" fill="#000"/>
<rect x="1206" y="759" width="3" height="1" fill="#000"/>
<rect x="1212" y="759" width="3" height="1" fill="#000"/>
<rect x="1218" y="759" width="3" height="1" fill="#000"/>
<rect x="1224" y="759" width="3" height="1" fill="#000"/>
<rect x="1230" y="759" width="3" height="1" fill="#000"/>
<rect x="1236" y="759" width="3" height="1" fill="#000"/>
<rect x="1242" y="759" width="3" height="1" fill="#000"/>
<rect x="1248" y="759" width="3" height="1" fill="#000"/>
<rect x="1254" y="759" width="3" height="1" fill="#000"/>
<rect x="1260" y="759" width="3" height="1" fill="#000"/>
<rect x="1266" y="759" width="3" height="1" fill="#000"/>
<rect x="1272" y="759" width="3" height="1" fill="#000"/>
<rect x="1278" y="759" width="3" height="1" fill="#000"/>
<rect x="1284" y="759" width="3" height="1" fill="#000"/>
<rect x="1290" y="759" width="3" height="1" fill="#000"/>
<rect x="1296" y="759" width="3" height="1" fill="#000"/>
<rect x="1302" y="759" width="3" height="1" fill="#000"/>
<rect x="1308" y="759" width="3" height="1" fill="#000"/>
<rect x="1314" y="759" width="3" height="1" fill="#000"/>
<rect x="1320" y="759" width="3" height="1" fill="#000"/>
<rect x="1326" y="759" width="3" height="1" fill="#000"/>
<rect x="1332" y="759" width="3" height="1" fill="#000"/>
<rect x="1338" y="759" width="3" height="1" fill="#000"/>
<rect x="1344" y="759" width="3" height="1" fill="#000"/>
<rect x="1350" y="759" width="3" height="1" fill="#000"/>
<rect x="1356" y="759" width="3" height="1" fill="#000"/>
<rect x="1362" y="759" width="3" height="1" fill="#000"/>
<rect x="1368" y="759" width="3" height="1" fill="#000"/>
<rect x="1374" y="759" width="3" height="1" fill="#000"/>
<rect x="1380" y="759" width="3" height="1" fill="#000"/>
<rect x="1386" y="759" width="3" height="1" fill="#000"/>
<rect x="1392" y="759" width="3" height="1" fill="#000"/>
<rect x="1398" y="759" width="3" height="1" fill="#000"/>
<rect x="1404" y="759" width="3" height="1" fill="#000"/>
<rect x="1410" y="759" width="3" height="1" fill="#000"/>
<rect x="1416" y="759" width="3" height="1" fill="#000"/>
<rect x="1422" y="759" width="3" height="1" fill="#000"/>
<rect x="1428" y="759" width="3" height="1" fill="#000"/>
<rect x="1434" y="759" width="3" height="1" fill="#000"/>
<rect x="1440" y="759" width="3" height="1" fill="#000"/>
<rect x="1446" y="759" width="3" height="1" fill="#000"/>
<rect x="1452" y="759" width="3" height="1" fill="#000"/>
<rect x="1458" y="759" width="3" height="1" fill="#000"/>
<rect x="1464" y="759" width="3" height="1" fill="#000"/>
<rect x="1470" y="759" width="3" height="1" fill="#000"/>
<rect x="1476" y="759" width="3" height="1" fill="#000"/>
<rect x="1482" y="759" width="3" height="1" fill="#000"/>
<rect x="1488" y="759" width="3" height="1" fill="#000"/>
<rect x="1494" y="759" width="3" height="1" fill="#000"/>
<rect x="1500" y="759" width="3" height="1" fill="#000"/>
<rect x="1506" y="759" width="3" height="1" fill="#000"/>
<rect x="1512" y="759" width="3" height="1" fill="#000"/>
<rect x="1518" y="759" width="3" height="1" fill="#000"/>
<rect x="1524" y="759" width="3" height="1" fill="#000"/>
<rect x="1530" y="759" width="3" height="1" fill="#000"/>
<rect x="1536" y="759" width="3" height="1" fill="#000"/>
<rect x="1542" y="759" width="3" height="1" fill="#000"/>
<rect x="1548" y="759" width="3" height="1" fill="#000"/>
<rect x="1554" y="759" width="3" height="1" fill="#000"/>
<rect x="1560" y="759" width="3" height="1" fill="#000"/>
<rect x="1566" y="759" width="3" height="1" fill="#000"/>
<rect x="1572" y="759" width="3" height="1" fill="#000"/>
<rect x="1578" y="759" width="3" height="1" fill="#000"/>
<rect x="1584" y="759" width="3" height="1" fill="#000"/>
<rect x="1590" y="759" width="3" height="1" fill="#000"/>
<rect x="1596" y="759" width="3" height="1" fill="#000"/>
<rect x="1602" y="759" width="3" height="1" fill="#000"/>
<rect x="1608" y="759" width="3" height="1" fill="#000"/>
<rect x="6" y="788" width="3" height="1" fill="#000"/>
<rect x="12" y="788" width="3" height="1" fill="#000"/>
<rect x="18" y="788" width="3" height="1" fill="#000"/>
<rect x="24" y="788" width="3" height="1" fill="#000"/>
<rect x="30" y="788" width="3" height="1" fill="#000"/>
<rect x="36" y="788" width="3" height="1" fill="#000"/>
<rect x="42" y="788" width="3" height="1" fill="#000"/>
<rect x="48" y="788" width="3" height="1" fill="#000"/>
<rect x="54" y="788" width="3" height="1" fill="#000"/>
<rect x="60" y="788" width="3" height="1" fill="#000"/>
<rect x="66" y="788" width="3" height="1" fill="#000"/>
<rect x="72" y="788" width="3" height="1" fill="#000"/>
<rect x="78" y="788" width="3" height="1" fill="#000"/>
<rect x="84" y="788" width="3" height="1" fill="#000"/>
<rect x="90" y="788" width="3" height="1" fill="#000"/>
<rect x="96" y="788" width="3" height="1" fill="#000"/>
<rect x="102" y="788" width="3" height="1" fill="#000"/>
<rect x="108" y="788" width="3" height="1" fill="#000"/>
<rect x="114" y="788" width="3" height="1" fill="#000"/>
<rect x="120" y="788" width="3" height="1" fill="#000"/>
<rect x="126" y="788" width="3" height="1" fill="#000"/>
<rect x="132" y="788" width="3" height="1" fill="#000"/>
<rect x="138" y="788" width="3" height="1" fill="#000"/>
<rect x="144" y="788" width="3" height="1" fill="#000"/>
<rect x="150" y="788" width="3" height="1" fill="#000"/>
<rect x="156" y="788" width="3" height="1" fill="#000"/>
<rect x="162" y="788" width="3" height="1" fill="#000"/>
<rect x="168" y="788" width="3" height="1" fill="#000"/>
<rect x="174" y="788" width="3" height="1" fill="#000"/>
<rect x="180" y="788" width="3" height="1" fill="#000"/>
<rect x="186" y="788" width="3" height="1" fill="#000"/>
<rect x="192" y="788" width="3" height="1" fill="#000"/>
<rect x="198" y="788" width="3" height="1" fill="#000"/>
<rect x="204" y="788" width="3" height="1" fill="#000"/>
<rect x="210" y="788" width="3" height="1" fill="#000"/>
<rect x="216" y="788" width="3" height="1" fill="#000"/>
<rect x="222" y="788" width="3" height="1" fill="#000"/>
<rect x="228" y="788" width="3" height="1" fill="#000"/>
<rect x="234" y="788" width="3" height="1" fill="#000"/>
<rect x="240" y="788" width="3" height="1" fill="#000"/>
<rect x="246" y="788" width="3" height="1" fill="#000"/>
<rect x="252" y="788" width="3" height="1" fill="#000"/>
<rect x="258" y="788" width="3" height="1" fill="#000"/>
<rect x="264" y="788" width="3" height="1" fill="#000"/>
<rect x="270" y="788" width="3" height="1" fill="#000"/>
<rect x="276" y="788" width="3" height="1" fill="#000"/>
<rect x="282" y="788" width="3" height="1" fill="#000"/>
<rect x="288" y="788" width="3" height="1" fill="#000"/>
<rect x="294" y="788" width="3" height="1" fill="#000"/>
<rect x="300" y="788" width="3" height="1" fill="#000"/>
<rect x="306" y="788" width="3" height="1" fill="#000"/>
<rect x="312" y="788" width="3" height="1" fill="#000"/>
<rect x="318" y="788" width="3" height="1" fill="#000"/>
<rect x="324" y="788" width="3" height="1" fill="#000"/>
<rect x="330" y="788" width="3" height="1" fill="#000"/>
<rect x="336" y="788" width="3" height="1" fill="#000"/>
<rect x="342" y="788" width="3" height="1" fill="#000"/>
<rect x="348" y="788" width="3" height="1" fill="#000"/>
<rect x="354" y="788" width="3" height="1" fill="#000"/>
<rect x="360" y="788" width="3" height="1" fill="#000"/>
<rect x="366" y="788" width="3" height="1" fill="#000"/>
<rect x="372" y="788" width="3" height="1" fill="#000"/>
<rect x="378" y="788" width="3" height="1" fill="#000"/>
<rect x="384" y="788" width="3" height="1" fill="#000"/>
<rect x="390" y="788" width="3" height="1" fill="#000"/>
<rect x="396" y="788" width="3" height="1" fill="#000"/>
<rect x="402" y="788" width="3" height="1" fill="#000"/>
<rect x="408" y="788" width="3" height="1" fill="#000"/>
<rect x="414" y="788" width="3" height="1" fill="#000"/>
<rect x="420" y="788" width="3" height="1" fill="#000"/>
<rect x="426" y="788" width="3" height="1" fill="#000"/>
<rect x="432" y="788" width="3" height="1" fill="#000"/>
<rect x="438" y="788" width="3" height="1" fill="#000"/>
<rect x="444" y="788" width="3" height="1" fill="#000"/>
<rect x="450" y="788" width="3" height="1" fill="#000"/>
<rect x="456" y="788" width="3" height="1" fill="#000"/>
<rect x="462" y="788" width="3" height="1" fill="#000"/>
<rect x="468" y="788" width="3" height="1" fill="#000"/>
<rect x="474" y="788" width="3" height="1" fill="#000"/>
<rect x="480" y="788" width="3" height="1" fill="#000"/>
<rect x="486" y="788" width="3" height="1" fill="#000"/>
<rect x="492" y="788" width="3" height="1" fill="#000"/>
<rect x="498" y="788" width="3" height="1" fill="#000"/>
<rect x="504" y="788" width="3" height="1" fill="#000"/>
<rect x="510" y="788" width="3" height="1" fill="#000"/>
<rect x="516" y="788" width="3" height="1" fill="#000"/>
<rect x="522" y="788" width="3" height="1" fill="#000"/>
<rect x="528" y="788" width="3" height="1" fill="#000"/>
<rect x="534" y="788" width="3" height="1" fill="#000"/>
<rect x="540" y="788" width="3" height="1" fill="#000"/>
<rect x="546" y="788" width="3" height="1" fill="#000"/>
<rect x="552" y="788" width="3" height="1" fill="#000"/>
<rect x="558" y="788" width="3" height="1" fill="#000"/>
<rect x="564" y="788" width="3" height="1" fill="#000"/>
<rect x="570" y="788" width="3" height="1" fill="#000"/>
<rect x="576" y="788" width="3" height="1" fill="#000"/>
<rect x="582" y="788" width="3" height="1" fill="#000"/>
<rect x="588" y="788" width="3" height="1" fill="#000"/>
<rect x="594" y="788" width="3" height="1" fill="#000"/>
<rect x="600" y="788" width="3" height="1" fill="#000"/>
<rect x="606" y="788" width="3" height="1" fill="#000"/>
<rect x="612" y="788" width="3" height="1" fill="#000"/>
<rect x="618" y="788" width="3" height="1" fill="#000"/>
<rect x="624" y="788" width="3" height="1" fill="#000"/>
<rect x="630" y="788" width="3" height="1" fill="#000"/>
<rect x="636" y="788" width="3" height="1" fill="#000"/>
<rect x="642" y="788" width="3" height="1" fill="#000"/>
<rect x="648" y="788" width="3" height="1" fill="#000"/>
<rect x="654" y="788" width="3" height="1" fill="#000"/>
<rect x="660" y="788" width="3" height="1" fill="#000"/>
<rect x="666" y="788" width="3" height="1" fill="#000"/>
<rect x="672" y="788" width="3" height="1" fill="#000"/>
<rect x="678" y="788" width="3" height="1" fill="#000"/>
<rect x="684" y="788" width="3" height="1" fill="#000"/>
<rect x="690" y="788" width="3" height="1" fill="#000"/>
<rect x="696" y="788" width="3" height="1" fill="#000"/>
<rect x="702" y="788" width="3" height="1" fill="#000"/>
<rect x="708" y="788" width="3" height="1" fill="#000"/>
<rect x="714" y="788" width="3" height="1" fill="#000"/>
<rect x="720" y="788" width="3" height="1" fill="#000"/>
<rect x="726" y="788" width="3" height="1" fill="#000"/>
<rect x="732" y="788" width="3" height="1" fill="#000"/>
<rect x="738" y="788" width="3" height="1" fill="#000"/>
<rect x="744" y="788" width="3" height="1" fill="#000"/>
<rect x="750" y="788" width="3" height="1" fill="#000"/>
<rect x="756" y="788" width="3" height="1" fill="#000"/>
<rect x="762" y="788" width="3" height="1" fill="#000"/>
<rect x="768" y="788" width="3" height="1" fill="#000"/>
<rect x="774" y="788" width="3" height="1" fill="#000"/>
<rect x="780" y="788" width="3" height="1" fill="#000"/>
<rect x="786" y="788" width="3" height="1" fill="#000"/>
<rect x="792" y="788" width="3" height="1" fill="#000"/>
<rect x="798" y="788" width="3" height="1" fill="#000"/>
<rect x="804" y="788" width="3" height="1" fill="#000"/>
<rect x="810" y="788" width="3" height="1" fill="#000"/>
<rect x="816" y="788" width="3" height="1" fill="#000"/>
<rect x="822" y="788" width="3" height="1" fill="#000"/>
<rect x="828" y="788" width="3" height="1" fill="#000"/>
<rect x="834" y="788" width="3" height="1" fill="#000"/>
<rect x="840" y="788" width="3" height="1" fill="#000"/>
<rect x="846" y="788" width="3" height="1" fill="#000"/>
<rect x="852" y="788" width="3" height="1" fill="#000"/>
<rect x="858" y="788" width="3" height="1" fill="#000"/>
<rect x="864" y="788" width="3" height="1" fill="#000"/>
<rect x="870" y="788" width="3" height="1" fill="#000"/>
<rect x="876" y="788" width="3" height="1" fill="#000"/>
<rect x="882" y="788" width="3" height="1" fill="#000"/>
<rect x="888" y="788" width="3" height="1" fill="#000"/>
<rect x="894" y="788" width="3" height="1" fill="#000"/>
<rect x="900" y="788" width="3" height="1" fill="#000"/>
<rect x="906" y="788" width="3" height="1" fill="#000"/>
<rect x="912" y="788" width="3" height="1" fill="#000"/>
<rect x="918" y="788" width="3" height="1" fill="#000"/>
<rect x="924" y="788" width="3" height="1" fill="#000"/>
<rect x="930" y="788" width="3" height="1" fill="#000"/>
<rect x="936" y="788" width="3" height="1" fill="#000"/>
<rect x="942" y="788" width="3" height="1" fill="#000"/>
<rect x="948" y="788" width="3" height="1" fill="#000"/>
<rect x="954" y="788" width="3" height="1" fill="#000"/>
<rect x="960" y="788" width="3" height="1" fill="#000"/>
<rect x="966" y="788" width="3" height="1" fill="#000"/>
<rect x="972" y="788" width="3" height="1" fill="#000"/>
<rect x="978" y="788" width="3" height="1" fill="#000"/>
<rect x="984" y="788" width="3" height="1" fill="#000"/>
<rect x="990" y="788" width="3" height="1" fill="#000"/>
<rect x="996" y="788" width="3" height="1" fill="#000"/>
<rect x="1002" y="788" width="3" height="1" fill="#000"/>
<rect x="1008" y="788" width="3" height="1" fill="#000"/>
<rect x="1014" y="788" width="3" height="1" fill="#000"/>
<rect x="1020" y="788" width="3" height="1" fill="#000"/>
<rect x="1026" y="788" width="3" height="1" fill="#000"/>
<rect x="1032" y="788" width="3" height="1" fill="#000"/>
<rect x="1038" y="788" width="3" height="1" fill="#000"/>
<rect x="1044" y="788" width="3" height="1" fill="#000"/>
<rect x="1050" y="788" width="3" height="1" fill="#000"/>
<rect x="1056" y="788" width="3" height="1" fill="#000"/>
<rect x="1062" y="788" width="3" height="1" fill="#000"/>
<rect x="1068" y="788" width="3" height="1" fill="#000"/>
<rect x="1074" y="788" width="3" height="1" fill="#000"/>
<rect x="1080" y="788" width="3" height="1" fill="#000"/>
<rect x="1086" y="788" width="3" height="1" fill="#000"/>
<rect x="1092" y="788" width="3" height="1" fill="#000"/>
<rect x="1098" y="788" width="3" height="1" fill="#000"/>
<rect x="1104" y="788" width="3" height="1" fill="#000"/>
<rect x="1110" y="788" width="3" height="1" fill="#000"/>
<rect x="1116" y="788" width="3" height="1" fill="#000"/>
<rect x="1122" y="788" width="3" height="1" fill="#000"/>
<rect x="1128" y="788" width="3" height="1" fill="#000"/>
<rect x="1134" y="788" width="3" height="1" fill="#000"/>
<rect x="1140" y="788" width="3" height="1" fill="#000"/>
<rect x="1146" y="788" width="3" height="1" fill="#000"/>
<rect x="1152" y="788" width="3" height="1" fill="#000"/>
<rect x="1158" y="788" width="3" height="1" fill="#000"/>
<rect x="1164" y="788" width="3" height="1" fill="#000"/>
<rect x="1170" y="788" width="3" height="1" fill="#000"/>
<rect x="1176" y="788" width="3" height="1" fill="#000"/>
<rect x="1182" y="788" width="3" height="1" fill="#000"/>
<rect x="1188" y="788" width="3" height="1" fill="#000"/>
<rect x="1194" y="788" width="3" height="1" fill="#000"/>
<rect x="1200" y="788" width="3" height="1" fill="#000"/>
<rect x="1206" y="788" width="3" height="1" fill="#000"/>
<rect x="1212" y="788" width="3" height="1" fill="#000"/>
<rect x="1218" y="788" width="3" height="1" fill="#000"/>
<rect x="1224" y="788" width="3" height="1" fill="#000"/>
<rect x="1230" y="788" width="3" height="1" fill="#000"/>
<rect x="1236" y="788" width="3" height="1" fill="#000"/>
<rect x="1242" y="788" width="3" height="1" fill="#000"/>
<rect x="1248" y="788" width="3" height="1" fill="#000"/>
<rect x="1254" y="788" width="3" height="1" fill="#000"/>
<rect x="1260" y="788" width="3" height="1" fill="#000"/>
<rect x="1266" y="788" width="3" height="1" fill="#000"/>
<rect x="1272" y="788" width="3" height="1" fill="#000"/>
<rect x="1278" y="788" width="3" height="1" fill="#000"/>
<rect x="1284" y="788" width="3" height="1" fill="#000"/>
<rect x="1290" y="788" width="3" height="1" fill="#000"/>
<rect x="1296" y="788" width="3" height="1" fill="#000"/>
<rect x="1302" y="788" width="3" height="1" fill="#000"/>
<rect x="1308" y="788" width="3" height="1" fill="#000"/>
<rect x="1314" y="788" width="3" height="1" fill="#000"/>
<rect x="1320" y="788" width="3" height="1" fill="#000"/>
<rect x="1326" y="788" width="3" height="1" fill="#000"/>
<rect x="1332" y="788" width="3" height="1" fill="#000"/>
<rect x="1338" y="788" width="3" height="1" fill="#000"/>
<rect x="1344" y="788" width="3" height="1" fill="#000"/>
<rect x="1350" y="788" width="3" height="1" fill="#000"/>
<rect x="1356" y="788" width="3" height="1" fill="#000"/>
<rect x="1362" y="788" width="3" height="1" fill="#000"/>
<rect x="1368" y="788" width="3" height="1" fill="#000"/>
<rect x="1374" y="788" width="3" height="1" fill="#000"/>
<rect x="1380" y="788" width="3" height="1" fill="#000"/>
<rect x="1386" y="788" width="3" height="1" fill="#000"/>
<rect x="1392" y="788" width="3" height="1" fill="#000"/>
<rect x="1398" y="788" width="3" height="1" fill="#000"/>
<rect x="1404" y="788" width="3" height="1" fill="#000"/>
<rect x="1410" y="788" width="3" height="1" fill="#000"/>
<rect x="1416" y="788" width="3" height="1" fill="#000"/>
<rect x="1422" y="788" width="3" height="1" fill="#000"/>
<rect x="1428" y="788" width="3" height="1" fill="#000"/>
<rect x="1434" y="788" width="3" height="1" fill="#000"/>
<rect x="1440" y="788" width="3" height="1" fill="#000"/>
<rect x="1446" y="788" width="3" height="1" fill="#000"/>
<rect x="1452" y="788" width="3" height="1" fill="#000"/>
<rect x="1458" y="788" width="3" height="1" fill="#000"/>
<rect x="1464" y="788" width="3" height="1" fill="#000"/>
<rect x="1470" y="788" width="3" height="1" fill="#000"/>
<rect x="1476" y="788" width="3" height="1" fill="#000"/>
<rect x="1482" y="788" width="3" height="1" fill="#000"/>
<rect x="1488" y="788" width="3" height="1" fill="#000"/>
<rect x="1494" y="788" width="3" height="1" fill="#000"/>
<rect x="1500" y="788" width="3" height="1" fill="#000"/>
<rect x="1506" y="788" width="3" height="1" fill="#000"/>
<rect x="1512" y="788" width="3" height="1" fill="#000"/>
<rect x="1518" y="788" width="3" height="1" fill="#000"/>
<rect x="1524" y="788" width="3" height="1" fill="#000"/>
<rect x="1530" y="788" width="3" height="1" fill="#000"/>
<rect x="1536" y="788" width="3" height="1" fill="#000"/>
<rect x="1542" y="788" width="3" height="1" fill="#000"/>
<rect x="1548" y="788" width="3" height="1" fill="#000"/>
<rect x="1554" y="788" width="3" height="1" fill="#000"/>
<rect x="1560" y="788" width="3" height="1" fill="#000"/>
<rect x="1566" y="788" width="3" height="1" fill="#000"/>
<rect x="1572" y="788" width="3" height="1" fill="#000"/>
<rect x="1578" y="788" width="3" height="1" fill="#000"/>
<rect x="1584" y="788" width="3" height="1" fill="#000"/>
<rect x="1590" y="788" width="3" height="1" fill="#000"/>
<rect x="1596" y="788" width="3" height="1" fill="#000"/>
<rect x="1602" y="788" width="3" height="1" fill="#000"/>
<rect x="1608" y="788" width="3" height="1" fill="#000"/>
<g clip-path="url(#rsiclip)">
<polyline points="5,763.9 21,763.9 37,765.4 53,765.4 69,763.9 85,763.5 101,768.4 117,772.8 133,762.9 149,760.9 165,760.3 181,759.9 197,759.9 213,760.9 229,767.8 245,764.9 261,764.9 277,764.9 293,755.9 309,756.9 325,765.4 341,765.9 357,766.5 373,765.5 389,763.9 405,762.9 421,765.5 437,764.5 453,763.9 469,765.9 485,767.9 501,772.9 517,778.5 533,774.9 549,774.3 565,773.9 581,775.9 597,775.9 613,776.9 629,776.9 645,778.7 661,778.9 677,776.5 693,772.5 709,771.9 725,771.9 741,767.3 757,766.9 773,770.9 789,770.9 805,762.9 821,752.5 837,750 853,750.6 869,751 885,755.5 901,751 917,751 933,754.5 949,754.9 965,757.7 981,753.9 997,758.5 1013,759.9 1029,763.5 1045,763.9 1061,754.9 1077,755.9 1093,751.9 1109,752.3 1125,752.9 1141,751.5 1157,750.9 1173,749.9 1189,749.9 1205,745.9 1221,742 1237,744 1253,744" fill="none" stroke="#1e90ff" stroke-width="2" shape-rendering="crispEdges"/>
</g>
<text x="9" y="729.6" font-size="9.6" fill="#000" font-family="'Liberation Sans', 'DejaVu Sans', sans-serif" textLength="68" lengthAdjust="spacingAndGlyphs" >RSI(14) 69.4566</text>
<text x="1617" y="728" font-size="9.6" fill="#000" font-family="'Liberation Sans', 'DejaVu Sans', sans-serif" textLength="14" lengthAdjust="spacingAndGlyphs" >100</text>
<text x="1617" y="739.5" font-size="9.6" fill="#000" font-family="'Liberation Sans', 'DejaVu Sans', sans-serif" textLength="9.5" lengthAdjust="spacingAndGlyphs" >80</text>
<text x="1617" y="763.5" font-size="9.6" fill="#000" font-family="'Liberation Sans', 'DejaVu Sans', sans-serif" textLength="9.5" lengthAdjust="spacingAndGlyphs" >50</text>
<text x="1617" y="791.5" font-size="9.6" fill="#000" font-family="'Liberation Sans', 'DejaVu Sans', sans-serif" textLength="9.5" lengthAdjust="spacingAndGlyphs" >15</text>
<text x="1617" y="798" font-size="9.6" fill="#000" font-family="'Liberation Sans', 'DejaVu Sans', sans-serif" textLength="5" lengthAdjust="spacingAndGlyphs" >0</text>
<rect x="1613" y="735" width="2" height="1" fill="#000"/>
<rect x="1613" y="759" width="2" height="1" fill="#000"/>
<rect x="1613" y="788" width="2" height="1" fill="#000"/>
<rect x="1613" y="800" width="2" height="1" fill="#000"/>
<rect x="5" y="802" width="1" height="3" fill="#000"/>
<text x="4" y="814" font-size="9.6" fill="#000" font-family="'Liberation Sans', 'DejaVu Sans', sans-serif" textLength="51.6" lengthAdjust="spacingAndGlyphs" >16 Sep 2022</text>
<rect x="69" y="802" width="1" height="3" fill="#000"/>
<text x="68" y="814" font-size="9.6" fill="#000" font-family="'Liberation Sans', 'DejaVu Sans', sans-serif" textLength="54.4" lengthAdjust="spacingAndGlyphs" >18 Sep 23:00</text>
<rect x="133" y="802" width="1" height="3" fill="#000"/>
<text x="132" y="814" font-size="9.6" fill="#000" font-family="'Liberation Sans', 'DejaVu Sans', sans-serif" textLength="54.4" lengthAdjust="spacingAndGlyphs" >19 Sep 12:00</text>
<rect x="197" y="802" width="1" height="3" fill="#000"/>
<text x="196" y="814" font-size="9.6" fill="#000" font-family="'Liberation Sans', 'DejaVu Sans', sans-serif" textLength="54.4" lengthAdjust="spacingAndGlyphs" >20 Sep 04:00</text>
<rect x="261" y="802" width="1" height="3" fill="#000"/>
<text x="260" y="814" font-size="9.6" fill="#000" font-family="'Liberation Sans', 'DejaVu Sans', sans-serif" textLength="54.4" lengthAdjust="spacingAndGlyphs" >20 Sep 20:00</text>
<rect x="325" y="802" width="1" height="3" fill="#000"/>
<text x="324" y="814" font-size="9.6" fill="#000" font-family="'Liberation Sans', 'DejaVu Sans', sans-serif" textLength="54.4" lengthAdjust="spacingAndGlyphs" >21 Sep 12:00</text>
<rect x="389" y="802" width="1" height="3" fill="#000"/>
<text x="388" y="814" font-size="9.6" fill="#000" font-family="'Liberation Sans', 'DejaVu Sans', sans-serif" textLength="54.4" lengthAdjust="spacingAndGlyphs" >22 Sep 04:00</text>
<rect x="453" y="802" width="1" height="3" fill="#000"/>
<text x="452" y="814" font-size="9.6" fill="#000" font-family="'Liberation Sans', 'DejaVu Sans', sans-serif" textLength="54.4" lengthAdjust="spacingAndGlyphs" >22 Sep 20:00</text>
<rect x="517" y="802" width="1" height="3" fill="#000"/>
<text x="516" y="814" font-size="9.6" fill="#000" font-family="'Liberation Sans', 'DejaVu Sans', sans-serif" textLength="54.4" lengthAdjust="spacingAndGlyphs" >23 Sep 12:00</text>
<rect x="581" y="802" width="1" height="3" fill="#000"/>
<text x="580" y="814" font-size="9.6" fill="#000" font-family="'Liberation Sans', 'DejaVu Sans', sans-serif" textLength="54.4" lengthAdjust="spacingAndGlyphs" >26 Sep 00:00</text>
<rect x="645" y="802" width="1" height="3" fill="#000"/>
<text x="644" y="814" font-size="9.6" fill="#000" font-family="'Liberation Sans', 'DejaVu Sans', sans-serif" textLength="54.4" lengthAdjust="spacingAndGlyphs" >26 Sep 16:00</text>
<rect x="709" y="802" width="1" height="3" fill="#000"/>
<text x="708" y="814" font-size="9.6" fill="#000" font-family="'Liberation Sans', 'DejaVu Sans', sans-serif" textLength="54.4" lengthAdjust="spacingAndGlyphs" >27 Sep 08:00</text>
<rect x="773" y="802" width="1" height="3" fill="#000"/>
<text x="772" y="814" font-size="9.6" fill="#000" font-family="'Liberation Sans', 'DejaVu Sans', sans-serif" textLength="54.4" lengthAdjust="spacingAndGlyphs" >28 Sep 00:00</text>
<rect x="837" y="802" width="1" height="3" fill="#000"/>
<text x="836" y="814" font-size="9.6" fill="#000" font-family="'Liberation Sans', 'DejaVu Sans', sans-serif" textLength="54.4" lengthAdjust="spacingAndGlyphs" >28 Sep 16:00</text>
<rect x="901" y="802" width="1" height="3" fill="#000"/>
<text x="900" y="814" font-size="9.6" fill="#000" font-family="'Liberation Sans', 'DejaVu Sans', sans-serif" textLength="54.4" lengthAdjust="spacingAndGlyphs" >29 Sep 08:00</text>
<rect x="965" y="802" width="1" height="3" fill="#000"/>
<text x="964" y="814" font-size="9.6" fill="#000" font-family="'Liberation Sans', 'DejaVu Sans', sans-serif" textLength="54.4" lengthAdjust="spacingAndGlyphs" >30 Sep 00:00</text>
<rect x="1029" y="802" width="1" height="3" fill="#000"/>
<text x="1028" y="814" font-size="9.6" fill="#000" font-family="'Liberation Sans', 'DejaVu Sans', sans-serif" textLength="54.4" lengthAdjust="spacingAndGlyphs" >30 Sep 16:00</text>
<rect x="1093" y="802" width="1" height="3" fill="#000"/>
<text x="1092" y="814" font-size="9.6" fill="#000" font-family="'Liberation Sans', 'DejaVu Sans', sans-serif" textLength="48.3" lengthAdjust="spacingAndGlyphs" >3 Oct 04:00</text>
<rect x="1157" y="802" width="1" height="3" fill="#000"/>
<text x="1156" y="814" font-size="9.6" fill="#000" font-family="'Liberation Sans', 'DejaVu Sans', sans-serif" textLength="48.3" lengthAdjust="spacingAndGlyphs" >3 Oct 20:00</text>
<rect x="1221" y="802" width="1" height="3" fill="#000"/>
<text x="1220" y="814" font-size="9.6" fill="#000" font-family="'Liberation Sans', 'DejaVu Sans', sans-serif" textLength="48.3" lengthAdjust="spacingAndGlyphs" >4 Oct 12:00</text>
<text x="-1.2" y="13.2" font-size="11.5" fill="#000" font-family="'Liberation Sans', 'Noto Sans CJK SC', sans-serif" textLength="34.3" lengthAdjust="spacingAndGlyphs" >新订单</text>
<text x="149.2" y="13.2" font-size="11.5" fill="#000" font-family="'Liberation Sans', 'Noto Sans CJK SC', sans-serif" textLength="47" lengthAdjust="spacingAndGlyphs" >自动交易</text>
<defs><linearGradient id="bk" x1="0" y1="0" x2="1" y2="1"><stop offset="0" stop-color="#fbe46a"/><stop offset="1" stop-color="#d49a10"/></linearGradient></defs>
<path d="M50.8,3.2 L60,10 L52.6,17.4 L45.2,11.8 Q48.6,8.6 50.8,3.2 Z" fill="url(#bk)" stroke="#9a5a0c" stroke-width="1"/>
<polygon points="46,11.7 52.6,16.5 53.6,15.2 47.2,10.6" fill="#f3dc8c"/>
<polygon points="53,16.9 59.6,10.4 58.8,9.7 52.3,15.9" fill="#efe3b8"/>
<rect x="75" y="2.3" width="10.8" height="9" fill="#1a94f0" stroke="#1070d0" stroke-width="0.8"/>
<line x1="76.5" y1="3.5" x2="78.5" y2="5.5" stroke="#fff" stroke-width="0.8"/><line x1="78.5" y1="5.5" x2="78.5" y2="11" stroke="#fff" stroke-width="0.8"/>
<rect x="80" y="6.5" width="4.5" height="1" fill="#e0f0ff"/>
<defs><linearGradient id="cl" x1="0" y1="0" x2="0" y2="1"><stop offset="0" stop-color="#ffffff"/><stop offset="1" stop-color="#b8c4d8"/></linearGradient></defs>
<path d="M75,17.8 A2.3,2.3 0 0 1 74.6,13.5 A2.9,2.9 0 0 1 78.8,12.2 A3.1,3.1 0 0 1 84.6,12.4 A2.7,2.7 0 0 1 88.2,15.4 A2.2,2.2 0 0 1 86.8,17.8 Z" fill="url(#cl)" stroke="#4a6496" stroke-width="1"/>
<circle cx="109" cy="10" r="7.2" fill="none" stroke="#6f94d8" stroke-width="1.4"/>
<circle cx="109" cy="10" r="4.9" fill="none" stroke="#7fa4e0" stroke-width="1.3"/>
<path d="M109,2.8 A7.2,7.2 0 0 1 109,17.2" fill="none" stroke="#5cb060" stroke-width="1.6"/>
<path d="M109,5.1 A4.9,4.9 0 0 1 109,14.9" fill="none" stroke="#8ccc8c" stroke-width="1.4"/>
<circle cx="108.8" cy="9.6" r="2" fill="#2050d0"/>
<line x1="109.5" y1="10" x2="109.5" y2="17.6" stroke="#20a020" stroke-width="1.3"/>
<polygon points="128.5,9.5 143,9.5 135.5,17.5" fill="#f3d64a" stroke="#c89a20" stroke-width="0.8"/>
<ellipse cx="135.8" cy="6.6" rx="7.8" ry="2.6" fill="#5ab0e0" stroke="#2a7ab0" stroke-width="0.8"/>
<ellipse cx="135.6" cy="4.4" rx="3.8" ry="2.6" fill="#78c0ea" stroke="#2a7ab0" stroke-width="0.8"/>
<circle cx="140.6" cy="13.8" r="4.1" fill="#e02808" stroke="#b01000" stroke-width="0.8"/>
<rect x="139.2" y="12.4" width="2.8" height="2.8" fill="#fff"/>
<rect x="204" y="0" width="1" height="20" fill="#a0a0a0"/>
<rect x="205" y="0" width="1" height="20" fill="#ffffff"/>
<rect x="208" y="0" width="3" height="1" fill="#a8a8a8"/>
<rect x="208" y="2" width="3" height="1" fill="#a8a8a8"/>
<rect x="208" y="4" width="3" height="1" fill="#a8a8a8"/>
<rect x="208" y="6" width="3" height="1" fill="#a8a8a8"/>
<rect x="208" y="8" width="3" height="1" fill="#a8a8a8"/>
<rect x="208" y="10" width="3" height="1" fill="#a8a8a8"/>
<rect x="208" y="12" width="3" height="1" fill="#a8a8a8"/>
<rect x="208" y="14" width="3" height="1" fill="#a8a8a8"/>
<rect x="208" y="16" width="3" height="1" fill="#a8a8a8"/>
<rect x="208" y="18" width="3" height="1" fill="#a8a8a8"/>
<g stroke="#505050" stroke-width="1.3" fill="none"><line x1="222.4" y1="4" x2="222.4" y2="18"/><line x1="220" y1="15.5" x2="234" y2="15.5"/></g>
<polygon points="220.4,6.5 222.4,4 224.4,6.5" fill="#505050"/>
<polygon points="231.5,13.5 234,15.5 231.5,17.5" fill="#505050"/>
<g stroke="#11a011" stroke-width="1.3"><line x1="228.5" y1="5" x2="228.5" y2="13.6"/><line x1="226" y1="12.5" x2="228.5" y2="12.5"/><line x1="228.5" y1="6.3" x2="231" y2="6.3"/></g>
<rect x="242" y="0" width="1" height="20" fill="#a0a0a0"/>
<rect x="243" y="0" width="1" height="20" fill="#ffffff"/>
<rect x="243.5" y="0" width="24.0" height="20" fill="#f8f8f8"/>
<g stroke="#505050" stroke-width="1.3" fill="none"><line x1="250.5" y1="4" x2="250.5" y2="18"/><line x1="248" y1="15.5" x2="262" y2="15.5"/></g>
<polygon points="248.5,6.5 250.5,4 252.5,6.5" fill="#505050"/>
<polygon points="259.5,13.5 262,15.5 259.5,17.5" fill="#505050"/>
<line x1="256.5" y1="2" x2="256.5" y2="13.8" stroke="#119011" stroke-width="1.2"/>
<rect x="254.5" y="4.4" width="4.3" height="6.8" fill="#3ce04a" stroke="#10901a" stroke-width="1"/>
<g stroke="#505050" stroke-width="1.3" fill="none"><line x1="278.4" y1="4" x2="278.4" y2="18"/><line x1="276" y1="15.5" x2="290" y2="15.5"/></g>
<polygon points="276.4,6.5 278.4,4 280.4,6.5" fill="#505050"/>
<polygon points="287.5,13.5 290,15.5 287.5,17.5" fill="#505050"/>
<path d="M277.3,12.6 Q283,4 288.7,11" fill="none" stroke="#1fa01f" stroke-width="1.2"/>
<rect x="299" y="0" width="1" height="20" fill="#a0a0a0"/>
<rect x="300" y="0" width="1" height="20" fill="#ffffff"/>
<line x1="317.8" y1="12" x2="322.5" y2="16.8" stroke="#b08a10" stroke-width="3.4"/>
<line x1="317.8" y1="12" x2="322.5" y2="16.8" stroke="#f0d860" stroke-width="1.6"/>
<circle cx="314" cy="7.9" r="5.4" fill="#d8f0fc" stroke="#2f80d0" stroke-width="1"/>
<rect x="311" y="7.1" width="6" height="1.7" fill="#4a88b8"/>
<rect x="313.15" y="4.9" width="1.7" height="6" fill="#4a88b8"/>
<line x1="345.90000000000003" y1="12" x2="350.6" y2="16.8" stroke="#b08a10" stroke-width="3.4"/>
<line x1="345.90000000000003" y1="12" x2="350.6" y2="16.8" stroke="#f0d860" stroke-width="1.6"/>
<circle cx="342.1" cy="7.9" r="5.4" fill="#d8f0fc" stroke="#2f80d0" stroke-width="1"/>
<rect x="339.1" y="7.1" width="6" height="1.7" fill="#4a88b8"/>
<rect x="364" y="2" width="7.8" height="7.8" rx="1" fill="#34a02a"/>
<rect x="365.3" y="5" width="5.2" height="3" fill="#fff"/>
<rect x="372.2" y="2" width="7.8" height="7.8" rx="1" fill="#2a5cd8"/>
<rect x="373.5" y="5" width="5.2" height="3" fill="#fff"/>
<rect x="364" y="10" width="7.8" height="7.8" rx="1" fill="#2a5cd8"/>
<rect x="365.3" y="13" width="5.2" height="3" fill="#fff"/>
<rect x="372.2" y="10" width="7.8" height="7.8" rx="1" fill="#34a02a"/>
<rect x="373.5" y="13" width="5.2" height="3" fill="#fff"/>
<rect x="389" y="0" width="1" height="20" fill="#a0a0a0"/>
<rect x="390" y="0" width="1" height="20" fill="#ffffff"/>
<rect x="394" y="0" width="1" height="20" fill="#a0a0a0"/>
<rect x="395" y="0" width="1" height="20" fill="#ffffff"/>
<rect x="395.5" y="0" width="23.5" height="20" fill="#f8f8f8"/>
<g stroke="#505050" stroke-width="1.3" fill="none"><line x1="402.4" y1="4" x2="402.4" y2="18"/><line x1="400" y1="15.5" x2="414" y2="15.5"/></g>
<polygon points="400.4,6.5 402.4,4 404.4,6.5" fill="#505050"/>
<polygon points="411.5,13.5 414,15.5 411.5,17.5" fill="#505050"/>
<polygon points="407.6,6.2 411,9.5 407.6,12.8" fill="#8ee08e" stroke="#18a018" stroke-width="1.2"/>
<rect x="422" y="0" width="1" height="20" fill="#a0a0a0"/>
<rect x="423" y="0" width="1" height="20" fill="#ffffff"/>
<rect x="423.5" y="0" width="23.5" height="20" fill="#f8f8f8"/>
<g stroke="#505050" stroke-width="1.3" fill="none"><line x1="430.4" y1="4" x2="430.4" y2="18"/><line x1="428" y1="15.5" x2="442" y2="15.5"/></g>
<polygon points="428.4,6.5 430.4,4 432.4,6.5" fill="#505050"/>
<polygon points="439.5,13.5 442,15.5 439.5,17.5" fill="#505050"/>
<line x1="436.5" y1="4" x2="436.5" y2="13.8" stroke="#1a6aa8" stroke-width="1.2"/>
<polygon points="437.3,9.4 440.5,7.2 440,9.1 442,9.1 442,9.9 440,9.9 440.5,11.6" fill="#e05010"/>
<rect x="451" y="0" width="1" height="20" fill="#a0a0a0"/>
<rect x="452" y="0" width="1" height="20" fill="#ffffff"/>
<path d="M461.5,2.5 L470,2.5 L473,5.5 L473,15.5 L461.5,15.5 Z" fill="#fff" stroke="#777" stroke-width="0.9"/>
<path d="M464,5 Q463,8 464,12" fill="none" stroke="#6a5a40" stroke-width="0.9"/>
<path d="M469,8.2 h4 v3.6 h3.9 v4 h-3.9 v3.8 h-4 v-3.8 h-3.8 v-4 h3.8 Z" fill="#2fd030" stroke="#119011" stroke-width="0.8"/>
<polygon points="483,9 488.5,9 485.75,12" fill="#000"/>
<defs><radialGradient id="ck" cx="0.4" cy="0.35" r="0.7"><stop offset="0" stop-color="#5ab0f8"/><stop offset="1" stop-color="#0a4aa8"/></radialGradient></defs>
<circle cx="507.1" cy="10" r="8" fill="url(#ck)"/>
<circle cx="507.1" cy="10" r="5.6" fill="#f4f8fc"/>
<circle cx="507.10" cy="5.40" r="0.35" fill="#889"/>
<circle cx="509.40" cy="6.02" r="0.35" fill="#889"/>
<circle cx="511.08" cy="7.70" r="0.35" fill="#889"/>
<circle cx="511.70" cy="10.00" r="0.35" fill="#889"/>
<circle cx="511.08" cy="12.30" r="0.35" fill="#889"/>
<circle cx="509.40" cy="13.98" r="0.35" fill="#889"/>
<circle cx="507.10" cy="14.60" r="0.35" fill="#889"/>
<circle cx="504.80" cy="13.98" r="0.35" fill="#889"/>
<circle cx="503.12" cy="12.30" r="0.35" fill="#889"/>
<circle cx="502.50" cy="10.00" r="0.35" fill="#889"/>
<circle cx="503.12" cy="7.70" r="0.35" fill="#889"/>
<circle cx="504.80" cy="6.02" r="0.35" fill="#889"/>
<line x1="506.8" y1="10.3" x2="506.5" y2="5.5" stroke="#111" stroke-width="1"/><line x1="506.8" y1="10.3" x2="510" y2="10.3" stroke="#111" stroke-width="1"/>
<polygon points="521.7,9 527.2,9 524.45,12" fill="#000"/>
<rect x="538.5" y="3.3" width="15.2" height="13.4" fill="#fff" stroke="#3a78c4" stroke-width="1"/>
<rect x="539" y="3.8" width="14.2" height="2" fill="#a8c8f0"/>
<rect x="539" y="10.8" width="14.2" height="0.9" fill="#3a78c4"/>
<polyline points="540.5,9.2 542.5,8.7 544,8.2 546,7.5 548,8.2 550,8.1 552,7.4" fill="none" stroke="#a01a10" stroke-width="0.9"/>
<polyline points="540.5,14.5 542.5,14 544,13.5 546,14.2 548,12.8 550,12.2 552,14.2" fill="none" stroke="#18a018" stroke-width="0.9"/>
<polygon points="560.7,9 566.2,9 563.45,12" fill="#000"/>
<rect x="572" y="0" width="1" height="20" fill="#a0a0a0"/>
<rect x="573" y="0" width="1" height="20" fill="#ffffff"/>
<rect x="576" y="0" width="3" height="1" fill="#a8a8a8"/>
<rect x="576" y="2" width="3" height="1" fill="#a8a8a8"/>
<rect x="576" y="4" width="3" height="1" fill="#a8a8a8"/>
<rect x="576" y="6" width="3" height="1" fill="#a8a8a8"/>
<rect x="576" y="8" width="3" height="1" fill="#a8a8a8"/>
<rect x="576" y="10" width="3" height="1" fill="#a8a8a8"/>
<rect x="576" y="12" width="3" height="1" fill="#a8a8a8"/>
<rect x="576" y="14" width="3" height="1" fill="#a8a8a8"/>
<rect x="576" y="16" width="3" height="1" fill="#a8a8a8"/>
<rect x="576" y="18" width="3" height="1" fill="#a8a8a8"/>
<rect x="582" y="0" width="1" height="20" fill="#a0a0a0"/>
<rect x="583" y="0" width="1" height="20" fill="#ffffff"/>
<rect x="583.5" y="0" width="24.0" height="20" fill="#f8f8f8"/>
<polygon points="590,2.8 590,14.2 592.5,12.2 595,17 597,16 594.7,11.3 598,10.8" fill="#474747"/>
<g fill="#4a4a4a"><rect x="614.8" y="9.8" width="6.8" height="1.4"/><rect x="623.5" y="9.8" width="6.6" height="1.4"/><rect x="621.8" y="3" width="1.4" height="6.8"/><rect x="621.8" y="11.4" width="1.4" height="6.6"/></g>
<rect x="639" y="0" width="1" height="20" fill="#a0a0a0"/>
<rect x="640" y="0" width="1" height="20" fill="#ffffff"/>
<rect x="655.8" y="4" width="1.4" height="13" fill="#4a4a4a"/>
<rect x="679" y="9.8" width="12" height="1.4" fill="#4a4a4a"/>
<line x1="706.9" y1="16.6" x2="719" y2="4.8" stroke="#4a4a4a" stroke-width="1.3"/>
<g stroke="#4a4a4a" stroke-width="1.1"><line x1="733" y1="11.6" x2="741" y2="4"/><line x1="734.5" y1="15.8" x2="746" y2="5"/><line x1="738" y1="16.6" x2="746.5" y2="8.6"/><line x1="735.5" y1="10" x2="735" y2="16"/><line x1="738.5" y1="7.5" x2="738" y2="13.5"/><line x1="741.5" y1="5" x2="741" y2="11"/><line x1="744.7" y1="2" x2="744.2" y2="9"/></g>
<text x="744" y="18.7" font-size="7" fill="#333" font-family="'Liberation Sans', 'DejaVu Sans', sans-serif" font-weight="bold" >E</text>
<rect x="762" y="2.8" width="1" height="1" fill="#555"/>
<rect x="764" y="2.8" width="1" height="1" fill="#555"/>
<rect x="766" y="2.8" width="1" height="1" fill="#555"/>
<rect x="768" y="2.8" width="1" height="1" fill="#555"/>
<rect x="770" y="2.8" width="1" height="1" fill="#555"/>
<rect x="772" y="2.8" width="1" height="1" fill="#555"/>
<rect x="774" y="2.8" width="1" height="1" fill="#555"/>
<rect x="762" y="5.8" width="1" height="1" fill="#555"/>
<rect x="764" y="5.8" width="1" height="1" fill="#555"/>
<rect x="766" y="5.8" width="1" height="1" fill="#555"/>
<rect x="768" y="5.8" width="1" height="1" fill="#555"/>
<rect x="770" y="5.8" width="1" height="1" fill="#555"/>
<rect x="772" y="5.8" width="1" height="1" fill="#555"/>
<rect x="774" y="5.8" width="1" height="1" fill="#555"/>
<rect x="762" y="9.7" width="1" height="1" fill="#555"/>
<rect x="764" y="9.7" width="1" height="1" fill="#555"/>
<rect x="766" y="9.7" width="1" height="1" fill="#555"/>
<rect x="768" y="9.7" width="1" height="1" fill="#555"/>
<rect x="770" y="9.7" width="1" height="1" fill="#555"/>
<rect x="772" y="9.7" width="1" height="1" fill="#555"/>
<rect x="774" y="9.7" width="1" height="1" fill="#555"/>
<rect x="762" y="13.9" width="1" height="1" fill="#555"/>
<rect x="764" y="13.9" width="1" height="1" fill="#555"/>
<rect x="766" y="13.9" width="1" height="1" fill="#555"/>
<rect x="768" y="13.9" width="1" height="1" fill="#555"/>
<rect x="770" y="13.9" width="1" height="1" fill="#555"/>
<text x="771.6" y="18.9" font-size="7" fill="#333" font-family="'Liberation Sans', 'DejaVu Sans', sans-serif" font-weight="bold" >F</text>
<text x="792.8" y="15" font-size="12.5" fill="#505050" font-family="'Liberation Sans', 'DejaVu Sans', sans-serif" textLength="7.6" lengthAdjust="spacingAndGlyphs" font-weight="bold" >A</text>
<rect x="819" y="3.5" width="1" height="1" fill="#555"/>
<rect x="819" y="16" width="1" height="1" fill="#555"/>
<rect x="821" y="3.5" width="1" height="1" fill="#555"/>
<rect x="821" y="16" width="1" height="1" fill="#555"/>
<rect x="823" y="3.5" width="1" height="1" fill="#555"/>
<rect x="823" y="16" width="1" height="1" fill="#555"/>
<rect x="825" y="3.5" width="1" height="1" fill="#555"/>
<rect x="825" y="16" width="1" height="1" fill="#555"/>
<rect x="827" y="3.5" width="1" height="1" fill="#555"/>
<rect x="827" y="16" width="1" height="1" fill="#555"/>
<rect x="829" y="3.5" width="1" height="1" fill="#555"/>
<rect x="829" y="16" width="1" height="1" fill="#555"/>
<rect x="819" y="4" width="1" height="1" fill="#555"/>
<rect x="830" y="4" width="1" height="1" fill="#555"/>
<rect x="819" y="6" width="1" height="1" fill="#555"/>
<rect x="830" y="6" width="1" height="1" fill="#555"/>
<rect x="819" y="8" width="1" height="1" fill="#555"/>
<rect x="830" y="8" width="1" height="1" fill="#555"/>
<rect x="819" y="10" width="1" height="1" fill="#555"/>
<rect x="830" y="10" width="1" height="1" fill="#555"/>
<rect x="819" y="12" width="1" height="1" fill="#555"/>
<rect x="830" y="12" width="1" height="1" fill="#555"/>
<rect x="819" y="14" width="1" height="1" fill="#555"/>
<rect x="830" y="14" width="1" height="1" fill="#555"/>
<rect x="819" y="16" width="1" height="1" fill="#555"/>
<rect x="830" y="16" width="1" height="1" fill="#555"/>
<text x="821" y="14.7" font-size="11" fill="#444" font-family="'Liberation Sans', 'DejaVu Sans', sans-serif" textLength="7.8" lengthAdjust="spacingAndGlyphs" font-weight="bold" >T</text>
<polygon points="846,6.2 849.4,4 852.8,6.2 849.4,8.3" fill="#4a4a4a"/>
<polyline points="848.4,11.3 850.4,13.3 854.6,8.5" fill="none" stroke="#4a4a4a" stroke-width="1.1"/>
<polygon points="853.2,14.6 856.6,12.6 860,14.6 856.6,17" fill="#4a4a4a"/>
<polygon points="866.5,9 872.0,9 869.25,12" fill="#000"/>
<rect x="878" y="0" width="1" height="20" fill="#a0a0a0"/>
<rect x="879" y="0" width="1" height="20" fill="#ffffff"/>
<rect x="882" y="0" width="3" height="1" fill="#a8a8a8"/>
<rect x="882" y="2" width="3" height="1" fill="#a8a8a8"/>
<rect x="882" y="4" width="3" height="1" fill="#a8a8a8"/>
<rect x="882" y="6" width="3" height="1" fill="#a8a8a8"/>
<rect x="882" y="8" width="3" height="1" fill="#a8a8a8"/>
<rect x="882" y="10" width="3" height="1" fill="#a8a8a8"/>
<rect x="882" y="12" width="3" height="1" fill="#a8a8a8"/>
<rect x="882" y="14" width="3" height="1" fill="#a8a8a8"/>
<rect x="882" y="16" width="3" height="1" fill="#a8a8a8"/>
<rect x="882" y="18" width="3" height="1" fill="#a8a8a8"/>
<text x="893.3" y="14.3" font-size="10.4" fill="#383838" font-family="'Liberation Sans', 'DejaVu Sans', sans-serif" textLength="13.0" lengthAdjust="spacingAndGlyphs" >M1</text>
<text x="921.7" y="14.3" font-size="10.4" fill="#383838" font-family="'Liberation Sans', 'DejaVu Sans', sans-serif" textLength="12.7" lengthAdjust="spacingAndGlyphs" >M5</text>
<text x="947.7" y="14.3" font-size="10.4" fill="#383838" font-family="'Liberation Sans', 'DejaVu Sans', sans-serif" textLength="17.5" lengthAdjust="spacingAndGlyphs" >M15</text>
<text x="975.5" y="14.3" font-size="10.4" fill="#383838" font-family="'Liberation Sans', 'DejaVu Sans', sans-serif" textLength="17.9" lengthAdjust="spacingAndGlyphs" >M30</text>
<text x="1006.3" y="14.3" font-size="10.4" fill="#383838" font-family="'Liberation Sans', 'DejaVu Sans', sans-serif" textLength="12.1" lengthAdjust="spacingAndGlyphs" >H1</text>
<rect x="1028" y="0" width="1" height="20" fill="#a0a0a0"/>
<rect x="1029" y="0" width="1" height="20" fill="#ffffff"/>
<rect x="1029.5" y="0" width="23.5" height="20" fill="#f8f8f8"/>
<text x="1033.5" y="14.3" font-size="10.4" fill="#383838" font-family="'Liberation Sans', 'DejaVu Sans', sans-serif" textLength="12.7" lengthAdjust="spacingAndGlyphs" >H4</text>
<text x="1062.5" y="14.3" font-size="10.4" fill="#383838" font-family="'Liberation Sans', 'DejaVu Sans', sans-serif" textLength="12.1" lengthAdjust="spacingAndGlyphs" >D1</text>
<text x="1090.2" y="14.3" font-size="10.4" fill="#383838" font-family="'Liberation Sans', 'DejaVu Sans', sans-serif" textLength="13.9" lengthAdjust="spacingAndGlyphs" >W1</text>
<text x="1116.8" y="14.3" font-size="10.4" fill="#383838" font-family="'Liberation Sans', 'DejaVu Sans', sans-serif" textLength="14.5" lengthAdjust="spacingAndGlyphs" >MN</text>
<rect x="1139" y="0" width="1" height="20" fill="#a0a0a0"/>
<rect x="1140" y="0" width="1" height="20" fill="#ffffff"/>
<line x1="1602" y1="15" x2="1606.6" y2="10.3" stroke="#1e58c8" stroke-width="2.6" stroke-linecap="round"/>
<circle cx="1609.4" cy="7.3" r="4.1" fill="#f4f4ff" stroke="#2a66d4" stroke-width="1.2"/>
<ellipse cx="1631.2" cy="12.4" rx="5.3" ry="4.4" fill="#dedee8" stroke="#a8a8a8" stroke-width="0.9"/>
<polygon points="1629,16 1630,18.5 1632.5,16.4" fill="#a0a0a0"/>
<defs><linearGradient id="bg1" x1="0" y1="0" x2="0" y2="1"><stop offset="0" stop-color="#ea5a3c"/><stop offset="1" stop-color="#d21e0c"/></linearGradient></defs>
<circle cx="1640.5" cy="7.3" r="8.3" fill="url(#bg1)"/>
<text x="1636.6" y="11.8" font-size="11.5" fill="#fff" font-family="'Liberation Serif', serif" font-weight="bold" >1</text>
</svg></body></html>
